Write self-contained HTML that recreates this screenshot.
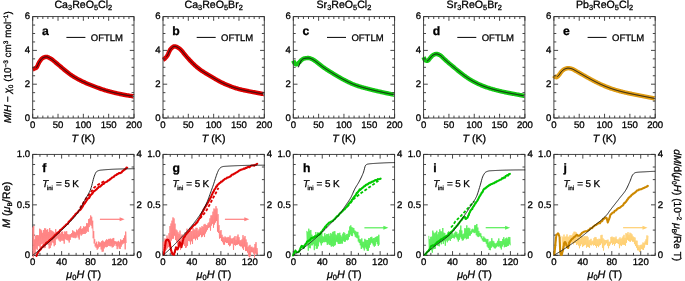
<!DOCTYPE html>
<html><head><meta charset="utf-8"><style>
html,body{margin:0;padding:0;background:#fff;width:685px;height:281px;overflow:hidden}
svg{display:block;will-change:transform}
text{font-family:"Liberation Sans", sans-serif;fill:#000;stroke:#000;stroke-width:0.3px;text-rendering:geometricPrecision}
</style></head><body>
<svg width="685" height="281" viewBox="0 0 685 281">
<text x="83.35" y="7.80" font-size="10.6" text-anchor="middle" >Ca<tspan font-size="7.4" dy="2">3</tspan><tspan dy="-2">ReO</tspan><tspan font-size="7.4" dy="2">5</tspan><tspan dy="-2">Cl</tspan><tspan font-size="7.4" dy="2">2</tspan></text>
<path d="M32.70 69.33 L33.34 69.10 L33.97 68.84 L34.61 68.58 L35.25 68.29 L35.89 67.93 L36.52 67.42 L37.16 66.45 L37.80 65.15 L38.43 63.73 L39.07 62.42 L39.71 61.40 L40.35 60.49 L40.98 59.63 L41.62 58.87 L42.26 58.28 L42.89 57.90 L43.53 57.59 L44.17 57.31 L44.81 57.09 L45.44 56.92 L46.08 56.83 L46.72 56.84 L47.35 56.98 L47.99 57.21 L48.63 57.51 L49.26 57.85 L49.90 58.20 L50.54 58.54 L51.18 58.92 L51.81 59.36 L52.45 59.83 L53.09 60.33 L53.72 60.85 L54.36 61.38 L55.00 61.91 L55.64 62.44 L56.27 62.96 L56.91 63.50 L57.55 64.03 L58.18 64.57 L58.82 65.10 L59.46 65.65 L60.10 66.19 L60.73 66.73 L61.37 67.28 L62.01 67.83 L62.64 68.37 L63.28 68.91 L63.92 69.45 L64.56 69.98 L65.19 70.51 L65.83 71.04 L66.47 71.55 L67.10 72.06 L67.74 72.56 L68.38 73.05 L69.02 73.53 L69.65 74.00 L70.29 74.45 L70.93 74.90 L71.56 75.33 L72.20 75.75 L72.84 76.16 L73.47 76.56 L74.11 76.96 L74.75 77.34 L75.39 77.72 L76.02 78.09 L76.66 78.45 L77.30 78.81 L77.93 79.15 L78.57 79.50 L79.21 79.83 L79.85 80.17 L80.48 80.49 L81.12 80.81 L81.76 81.13 L82.39 81.44 L83.03 81.74 L83.67 82.04 L84.31 82.33 L84.94 82.62 L85.58 82.90 L86.22 83.18 L86.85 83.45 L87.49 83.72 L88.13 83.98 L88.77 84.24 L89.40 84.50 L90.04 84.75 L90.68 85.00 L91.31 85.25 L91.95 85.50 L92.59 85.75 L93.23 86.00 L93.86 86.24 L94.50 86.49 L95.14 86.73 L95.77 86.97 L96.41 87.21 L97.05 87.45 L97.68 87.69 L98.32 87.92 L98.96 88.15 L99.60 88.38 L100.23 88.61 L100.87 88.83 L101.51 89.05 L102.14 89.27 L102.78 89.49 L103.42 89.70 L104.06 89.90 L104.69 90.10 L105.33 90.30 L105.97 90.50 L106.60 90.69 L107.24 90.87 L107.88 91.05 L108.52 91.23 L109.15 91.41 L109.79 91.58 L110.43 91.74 L111.06 91.91 L111.70 92.07 L112.34 92.23 L112.98 92.39 L113.61 92.54 L114.25 92.70 L114.89 92.85 L115.52 93.00 L116.16 93.15 L116.80 93.29 L117.44 93.44 L118.07 93.58 L118.71 93.72 L119.35 93.86 L119.98 93.99 L120.62 94.13 L121.26 94.26 L121.89 94.39 L122.53 94.51 L123.17 94.64 L123.81 94.76 L124.44 94.88 L125.08 95.00 L125.72 95.11 L126.35 95.22 L126.99 95.33 L127.63 95.44 L128.27 95.54 L128.90 95.64 L129.54 95.74 L130.18 95.83 L130.81 95.93 L131.45 96.02 L132.09 96.11 L132.73 96.20 L133.36 96.29 L134.00 96.37" stroke="#dc0000" stroke-width="4.4" fill="none" stroke-linecap="butt" stroke-linejoin="round"/>
<circle cx="134.00" cy="96.37" r="1.3" fill="#fff"/>
<path d="M36.25 67.68 L36.86 66.96 L37.48 65.84 L38.09 64.50 L38.70 63.14 L39.32 61.98 L39.93 61.08 L40.55 60.21 L41.16 59.40 L41.78 58.70 L42.39 58.18 L43.01 57.84 L43.62 57.55 L44.24 57.29 L44.85 57.07 L45.47 56.92 L46.08 56.83 L46.70 56.84 L47.31 56.97 L47.93 57.18 L48.54 57.47 L49.16 57.80 L49.77 58.13 L50.39 58.46 L51.00 58.81 L51.62 59.22 L52.23 59.66 L52.85 60.14 L53.46 60.63 L54.07 61.14 L54.69 61.65 L55.30 62.16 L55.92 62.67 L56.53 63.18 L57.15 63.70 L57.76 64.21 L58.38 64.73 L58.99 65.25 L59.61 65.77 L60.22 66.30 L60.84 66.82 L61.45 67.35 L62.07 67.88 L62.68 68.40 L63.30 68.92 L63.91 69.44 L64.53 69.96 L65.14 70.47 L65.76 70.98 L66.37 71.48 L66.99 71.97 L67.60 72.45 L68.22 72.93 L68.83 73.39 L69.45 73.85 L70.06 74.29 L70.67 74.72 L71.29 75.14 L71.90 75.55 L72.52 75.96 L73.13 76.35 L73.75 76.73 L74.36 77.11 L74.98 77.48 L75.59 77.84 L76.21 78.19 L76.82 78.54 L77.44 78.88 L78.05 79.22 L78.67 79.55 L79.28 79.87 L79.90 80.19 L80.51 80.51 L81.13 80.81 L81.74 81.12 L82.36 81.42 L82.97 81.71 L83.59 82.00 L84.20 82.28 L84.82 82.56 L85.43 82.83 L86.04 83.10 L86.66 83.37 L87.27 83.63 L87.89 83.88 L88.50 84.13 L89.12 84.38 L89.73 84.63 L90.35 84.87 L90.96 85.12 L91.58 85.36 L92.19 85.60 L92.81 85.84 L93.42 86.07 L94.04 86.31 L94.65 86.54 L95.27 86.78 L95.88 87.01 L96.50 87.24 L97.11 87.47 L97.73 87.70 L98.34 87.93 L98.96 88.15 L99.57 88.37 L100.19 88.59 L100.80 88.81 L101.42 89.02 L102.03 89.23 L102.64 89.44 L103.26 89.64 L103.87 89.84 L104.49 90.04 L105.10 90.23 L105.72 90.42 L106.33 90.61 L106.95 90.79 L107.56 90.96 L108.18 91.14 L108.79 91.31 L109.41 91.47 L110.02 91.64 L110.64 91.80 L111.25 91.96 L111.87 92.11 L112.48 92.27 L113.10 92.42 L113.71 92.57 L114.33 92.72 L114.94 92.86 L115.56 93.01 L116.17 93.15 L116.79 93.29 L117.40 93.43 L118.01 93.57 L118.63 93.70 L119.24 93.83 L119.86 93.97 L120.47 94.10 L121.09 94.22 L121.70 94.35 L122.32 94.47 L122.93 94.59 L123.55 94.71 L124.16 94.83 L124.78 94.94 L125.39 95.05 L126.01 95.16 L126.62 95.27 L127.24 95.37 L127.85 95.47 L128.47 95.57 L129.08 95.67 L129.70 95.76 L130.31 95.85 L130.93 95.94 L131.54 96.03 L132.16 96.12 L132.77 96.20 L133.39 96.29 L134.00 96.37" stroke="#111" stroke-width="1.0" fill="none"/>
<rect x="32.70" y="16.60" width="101.30" height="101.40" fill="none" stroke="#333" stroke-width="0.9"/>
<path d="M32.70 118.00v-4.2M32.70 16.60v4.2M37.77 118.00v-2.4M37.77 16.60v2.4M42.83 118.00v-2.4M42.83 16.60v2.4M47.90 118.00v-2.4M47.90 16.60v2.4M52.96 118.00v-2.4M52.96 16.60v2.4M58.03 118.00v-4.2M58.03 16.60v4.2M63.09 118.00v-2.4M63.09 16.60v2.4M68.16 118.00v-2.4M68.16 16.60v2.4M73.22 118.00v-2.4M73.22 16.60v2.4M78.28 118.00v-2.4M78.28 16.60v2.4M83.35 118.00v-4.2M83.35 16.60v4.2M88.42 118.00v-2.4M88.42 16.60v2.4M93.48 118.00v-2.4M93.48 16.60v2.4M98.55 118.00v-2.4M98.55 16.60v2.4M103.61 118.00v-2.4M103.61 16.60v2.4M108.67 118.00v-4.2M108.67 16.60v4.2M113.74 118.00v-2.4M113.74 16.60v2.4M118.80 118.00v-2.4M118.80 16.60v2.4M123.87 118.00v-2.4M123.87 16.60v2.4M128.94 118.00v-2.4M128.94 16.60v2.4M134.00 118.00v-4.2M134.00 16.60v4.2M32.70 118.00h4.2M134.00 118.00h-4.2M32.70 109.55h2.4M134.00 109.55h-2.4M32.70 101.10h2.4M134.00 101.10h-2.4M32.70 92.65h2.4M134.00 92.65h-2.4M32.70 84.20h4.2M134.00 84.20h-4.2M32.70 75.75h2.4M134.00 75.75h-2.4M32.70 67.30h2.4M134.00 67.30h-2.4M32.70 58.85h2.4M134.00 58.85h-2.4M32.70 50.40h4.2M134.00 50.40h-4.2M32.70 41.95h2.4M134.00 41.95h-2.4M32.70 33.50h2.4M134.00 33.50h-2.4M32.70 25.05h2.4M134.00 25.05h-2.4M32.70 16.60h4.2M134.00 16.60h-4.2" stroke="#333" stroke-width="0.9" fill="none"/>
<path d="M66.40 37.4h19" stroke="#000" stroke-width="1"/>
<text x="90.80" y="40.60" font-size="9.5" text-anchor="start" >OFTLM</text>
<text x="41.90" y="34.60" font-size="12.2" text-anchor="start" font-weight="bold">a</text>
<text x="30.20" y="120.80" font-size="9.6" text-anchor="end" >0</text>
<text x="30.20" y="87.00" font-size="9.6" text-anchor="end" >2</text>
<text x="30.20" y="53.20" font-size="9.6" text-anchor="end" >4</text>
<text x="30.20" y="19.40" font-size="9.6" text-anchor="end" >6</text>
<text x="32.70" y="128.00" font-size="9.6" text-anchor="middle" >0</text>
<text x="58.03" y="128.00" font-size="9.6" text-anchor="middle" >50</text>
<text x="83.35" y="128.00" font-size="9.6" text-anchor="middle" >100</text>
<text x="108.67" y="128.00" font-size="9.6" text-anchor="middle" >150</text>
<text x="134.00" y="128.00" font-size="9.6" text-anchor="middle" >200</text>
<text x="83.35" y="142.20" font-size="10.6" text-anchor="middle" ><tspan font-style="italic">T</tspan> (K)</text>
<rect x="32.70" y="154.40" width="101.30" height="100.90" fill="none" stroke="#333" stroke-width="0.9"/>
<path d="M32.70 255.30v-4.2M32.70 154.40v4.2M39.94 255.30v-2.4M39.94 154.40v2.4M47.17 255.30v-2.4M47.17 154.40v2.4M54.41 255.30v-2.4M54.41 154.40v2.4M61.64 255.30v-4.2M61.64 154.40v4.2M68.88 255.30v-2.4M68.88 154.40v2.4M76.11 255.30v-2.4M76.11 154.40v2.4M83.35 255.30v-2.4M83.35 154.40v2.4M90.59 255.30v-4.2M90.59 154.40v4.2M97.82 255.30v-2.4M97.82 154.40v2.4M105.06 255.30v-2.4M105.06 154.40v2.4M112.29 255.30v-2.4M112.29 154.40v2.4M119.53 255.30v-4.2M119.53 154.40v4.2M126.76 255.30v-2.4M126.76 154.40v2.4M134.00 255.30v-2.4M134.00 154.40v2.4M32.70 255.30h4.2M32.70 245.21h2.4M32.70 235.12h2.4M32.70 225.03h2.4M32.70 214.94h2.4M32.70 204.85h4.2M32.70 194.76h2.4M32.70 184.67h2.4M32.70 174.58h2.4M32.70 164.49h2.4M32.70 154.40h4.2M134.00 255.30h-4.2M134.00 242.69h-2.4M134.00 230.08h-2.4M134.00 217.46h-2.4M134.00 204.85h-4.2M134.00 192.24h-2.4M134.00 179.62h-2.4M134.00 167.01h-2.4M134.00 154.40h-4.2" stroke="#333" stroke-width="0.9" fill="none"/>
<text x="42.30" y="172.00" font-size="12.2" text-anchor="start" font-weight="bold">f</text>
<text y="187.4" font-size="9.9"><tspan x="42.30" font-style="italic">T</tspan><tspan x="47.00" y="189.8" font-size="5.9">ini</tspan><tspan x="56.00" y="187.4">=</tspan><tspan x="64.40">5</tspan><tspan x="72.30">K</tspan></text>
<text x="30.20" y="258.10" font-size="9.6" text-anchor="end" >0</text>
<text x="30.20" y="207.65" font-size="9.6" text-anchor="end" >0.5</text>
<text x="30.20" y="157.20" font-size="9.6" text-anchor="end" >1.0</text>
<text x="136.50" y="258.10" font-size="9.6" text-anchor="start" >0</text>
<text x="136.50" y="207.65" font-size="9.6" text-anchor="start" >2</text>
<text x="136.50" y="157.20" font-size="9.6" text-anchor="start" >4</text>
<text x="32.70" y="265.30" font-size="9.6" text-anchor="middle" >0</text>
<text x="61.64" y="265.30" font-size="9.6" text-anchor="middle" >40</text>
<text x="90.59" y="265.30" font-size="9.6" text-anchor="middle" >80</text>
<text x="119.53" y="265.30" font-size="9.6" text-anchor="middle" >120</text>
<text x="83.65" y="278.30" font-size="10.8" text-anchor="middle" ><tspan font-style="italic">μ</tspan><tspan font-size="7.5" dy="2">0</tspan><tspan dy="-2" font-style="italic">H</tspan> (T)</text>
<text x="213.65" y="7.80" font-size="10.6" text-anchor="middle" >Ca<tspan font-size="7.4" dy="2">3</tspan><tspan dy="-2">ReO</tspan><tspan font-size="7.4" dy="2">5</tspan><tspan dy="-2">Br</tspan><tspan font-size="7.4" dy="2">2</tspan></text>
<path d="M163.00 59.86 L163.64 59.54 L164.27 59.08 L164.91 58.51 L165.55 57.84 L166.19 57.09 L166.82 56.28 L167.46 55.40 L168.10 54.20 L168.73 52.72 L169.37 51.20 L170.01 49.91 L170.65 49.06 L171.28 48.40 L171.92 47.79 L172.56 47.25 L173.19 46.81 L173.83 46.50 L174.47 46.36 L175.11 46.38 L175.74 46.53 L176.38 46.77 L177.02 47.08 L177.65 47.44 L178.29 47.83 L178.93 48.22 L179.56 48.65 L180.20 49.18 L180.84 49.79 L181.48 50.46 L182.11 51.19 L182.75 51.97 L183.39 52.77 L184.02 53.58 L184.66 54.39 L185.30 55.18 L185.94 55.94 L186.57 56.69 L187.21 57.41 L187.85 58.12 L188.48 58.82 L189.12 59.52 L189.76 60.20 L190.40 60.88 L191.03 61.54 L191.67 62.20 L192.31 62.84 L192.94 63.46 L193.58 64.08 L194.22 64.69 L194.86 65.29 L195.49 65.88 L196.13 66.45 L196.77 67.00 L197.40 67.54 L198.04 68.06 L198.68 68.56 L199.32 69.05 L199.95 69.52 L200.59 69.98 L201.23 70.43 L201.86 70.86 L202.50 71.28 L203.14 71.70 L203.77 72.10 L204.41 72.50 L205.05 72.89 L205.69 73.28 L206.32 73.66 L206.96 74.04 L207.60 74.42 L208.23 74.80 L208.87 75.18 L209.51 75.56 L210.15 75.94 L210.78 76.32 L211.42 76.69 L212.06 77.07 L212.69 77.45 L213.33 77.83 L213.97 78.21 L214.61 78.58 L215.24 78.96 L215.88 79.32 L216.52 79.69 L217.15 80.05 L217.79 80.41 L218.43 80.76 L219.07 81.11 L219.70 81.44 L220.34 81.78 L220.98 82.10 L221.61 82.42 L222.25 82.74 L222.89 83.05 L223.53 83.35 L224.16 83.64 L224.80 83.93 L225.44 84.22 L226.07 84.50 L226.71 84.77 L227.35 85.04 L227.98 85.31 L228.62 85.57 L229.26 85.82 L229.90 86.08 L230.53 86.32 L231.17 86.56 L231.81 86.80 L232.44 87.02 L233.08 87.25 L233.72 87.47 L234.36 87.68 L234.99 87.89 L235.63 88.09 L236.27 88.28 L236.90 88.47 L237.54 88.65 L238.18 88.83 L238.82 89.01 L239.45 89.17 L240.09 89.34 L240.73 89.50 L241.36 89.65 L242.00 89.80 L242.64 89.95 L243.28 90.09 L243.91 90.23 L244.55 90.37 L245.19 90.51 L245.82 90.64 L246.46 90.77 L247.10 90.90 L247.74 91.03 L248.37 91.16 L249.01 91.29 L249.65 91.41 L250.28 91.54 L250.92 91.66 L251.56 91.79 L252.19 91.91 L252.83 92.04 L253.47 92.16 L254.11 92.28 L254.74 92.41 L255.38 92.53 L256.02 92.65 L256.65 92.77 L257.29 92.89 L257.93 93.01 L258.57 93.13 L259.20 93.25 L259.84 93.36 L260.48 93.48 L261.11 93.60 L261.75 93.71 L262.39 93.83 L263.03 93.94 L263.66 94.06 L264.30 94.17" stroke="#dc0000" stroke-width="4.4" fill="none" stroke-linecap="butt" stroke-linejoin="round"/>
<circle cx="264.30" cy="94.17" r="1.3" fill="#fff"/>
<path d="M166.55 56.64 L167.16 55.83 L167.78 54.86 L168.39 53.54 L169.00 52.06 L169.62 50.66 L170.23 49.56 L170.85 48.85 L171.46 48.22 L172.08 47.65 L172.69 47.14 L173.31 46.74 L173.92 46.47 L174.54 46.35 L175.15 46.38 L175.77 46.53 L176.38 46.77 L177.00 47.07 L177.61 47.42 L178.23 47.79 L178.84 48.17 L179.46 48.57 L180.07 49.07 L180.69 49.63 L181.30 50.27 L181.92 50.96 L182.53 51.69 L183.15 52.46 L183.76 53.24 L184.37 54.02 L184.99 54.80 L185.60 55.55 L186.22 56.28 L186.83 56.99 L187.45 57.68 L188.06 58.36 L188.68 59.04 L189.29 59.70 L189.91 60.36 L190.52 61.01 L191.14 61.65 L191.75 62.28 L192.37 62.90 L192.98 63.50 L193.60 64.09 L194.21 64.69 L194.83 65.27 L195.44 65.83 L196.06 66.38 L196.67 66.92 L197.29 67.44 L197.90 67.95 L198.52 68.44 L199.13 68.91 L199.75 69.37 L200.36 69.82 L200.97 70.25 L201.59 70.68 L202.20 71.09 L202.82 71.49 L203.43 71.89 L204.05 72.27 L204.66 72.65 L205.28 73.03 L205.89 73.40 L206.51 73.77 L207.12 74.14 L207.74 74.51 L208.35 74.87 L208.97 75.24 L209.58 75.60 L210.20 75.97 L210.81 76.33 L211.43 76.70 L212.04 77.06 L212.66 77.43 L213.27 77.80 L213.89 78.16 L214.50 78.52 L215.12 78.88 L215.73 79.24 L216.34 79.59 L216.96 79.94 L217.57 80.29 L218.19 80.63 L218.80 80.96 L219.42 81.29 L220.03 81.62 L220.65 81.94 L221.26 82.25 L221.88 82.56 L222.49 82.86 L223.11 83.15 L223.72 83.44 L224.34 83.72 L224.95 84.00 L225.57 84.28 L226.18 84.55 L226.80 84.81 L227.41 85.07 L228.03 85.33 L228.64 85.58 L229.26 85.82 L229.87 86.07 L230.49 86.30 L231.10 86.53 L231.72 86.76 L232.33 86.98 L232.94 87.20 L233.56 87.41 L234.17 87.62 L234.79 87.82 L235.40 88.02 L236.02 88.21 L236.63 88.39 L237.25 88.57 L237.86 88.75 L238.48 88.91 L239.09 89.08 L239.71 89.24 L240.32 89.40 L240.94 89.55 L241.55 89.70 L242.17 89.84 L242.78 89.98 L243.40 90.12 L244.01 90.25 L244.63 90.39 L245.24 90.52 L245.86 90.65 L246.47 90.77 L247.09 90.90 L247.70 91.02 L248.31 91.15 L248.93 91.27 L249.54 91.39 L250.16 91.51 L250.77 91.63 L251.39 91.76 L252.00 91.88 L252.62 91.99 L253.23 92.11 L253.85 92.23 L254.46 92.35 L255.08 92.47 L255.69 92.59 L256.31 92.70 L256.92 92.82 L257.54 92.94 L258.15 93.05 L258.77 93.17 L259.38 93.28 L260.00 93.39 L260.61 93.51 L261.23 93.62 L261.84 93.73 L262.46 93.84 L263.07 93.95 L263.69 94.06 L264.30 94.17" stroke="#111" stroke-width="1.0" fill="none"/>
<rect x="163.00" y="16.60" width="101.30" height="101.40" fill="none" stroke="#333" stroke-width="0.9"/>
<path d="M163.00 118.00v-4.2M163.00 16.60v4.2M168.06 118.00v-2.4M168.06 16.60v2.4M173.13 118.00v-2.4M173.13 16.60v2.4M178.19 118.00v-2.4M178.19 16.60v2.4M183.26 118.00v-2.4M183.26 16.60v2.4M188.32 118.00v-4.2M188.32 16.60v4.2M193.39 118.00v-2.4M193.39 16.60v2.4M198.45 118.00v-2.4M198.45 16.60v2.4M203.52 118.00v-2.4M203.52 16.60v2.4M208.59 118.00v-2.4M208.59 16.60v2.4M213.65 118.00v-4.2M213.65 16.60v4.2M218.72 118.00v-2.4M218.72 16.60v2.4M223.78 118.00v-2.4M223.78 16.60v2.4M228.84 118.00v-2.4M228.84 16.60v2.4M233.91 118.00v-2.4M233.91 16.60v2.4M238.97 118.00v-4.2M238.97 16.60v4.2M244.04 118.00v-2.4M244.04 16.60v2.4M249.10 118.00v-2.4M249.10 16.60v2.4M254.17 118.00v-2.4M254.17 16.60v2.4M259.24 118.00v-2.4M259.24 16.60v2.4M264.30 118.00v-4.2M264.30 16.60v4.2M163.00 118.00h4.2M264.30 118.00h-4.2M163.00 109.55h2.4M264.30 109.55h-2.4M163.00 101.10h2.4M264.30 101.10h-2.4M163.00 92.65h2.4M264.30 92.65h-2.4M163.00 84.20h4.2M264.30 84.20h-4.2M163.00 75.75h2.4M264.30 75.75h-2.4M163.00 67.30h2.4M264.30 67.30h-2.4M163.00 58.85h2.4M264.30 58.85h-2.4M163.00 50.40h4.2M264.30 50.40h-4.2M163.00 41.95h2.4M264.30 41.95h-2.4M163.00 33.50h2.4M264.30 33.50h-2.4M163.00 25.05h2.4M264.30 25.05h-2.4M163.00 16.60h4.2M264.30 16.60h-4.2" stroke="#333" stroke-width="0.9" fill="none"/>
<path d="M196.70 37.4h19" stroke="#000" stroke-width="1"/>
<text x="221.10" y="40.60" font-size="9.5" text-anchor="start" >OFTLM</text>
<text x="172.20" y="34.60" font-size="12.2" text-anchor="start" font-weight="bold">b</text>
<text x="160.50" y="120.80" font-size="9.6" text-anchor="end" >0</text>
<text x="160.50" y="87.00" font-size="9.6" text-anchor="end" >2</text>
<text x="160.50" y="53.20" font-size="9.6" text-anchor="end" >4</text>
<text x="160.50" y="19.40" font-size="9.6" text-anchor="end" >6</text>
<text x="163.00" y="128.00" font-size="9.6" text-anchor="middle" >0</text>
<text x="188.32" y="128.00" font-size="9.6" text-anchor="middle" >50</text>
<text x="213.65" y="128.00" font-size="9.6" text-anchor="middle" >100</text>
<text x="238.97" y="128.00" font-size="9.6" text-anchor="middle" >150</text>
<text x="264.30" y="128.00" font-size="9.6" text-anchor="middle" >200</text>
<text x="213.65" y="142.20" font-size="10.6" text-anchor="middle" ><tspan font-style="italic">T</tspan> (K)</text>
<rect x="163.00" y="154.40" width="101.30" height="100.90" fill="none" stroke="#333" stroke-width="0.9"/>
<path d="M163.00 255.30v-4.2M163.00 154.40v4.2M170.24 255.30v-2.4M170.24 154.40v2.4M177.47 255.30v-2.4M177.47 154.40v2.4M184.71 255.30v-2.4M184.71 154.40v2.4M191.94 255.30v-4.2M191.94 154.40v4.2M199.18 255.30v-2.4M199.18 154.40v2.4M206.41 255.30v-2.4M206.41 154.40v2.4M213.65 255.30v-2.4M213.65 154.40v2.4M220.89 255.30v-4.2M220.89 154.40v4.2M228.12 255.30v-2.4M228.12 154.40v2.4M235.36 255.30v-2.4M235.36 154.40v2.4M242.59 255.30v-2.4M242.59 154.40v2.4M249.83 255.30v-4.2M249.83 154.40v4.2M257.06 255.30v-2.4M257.06 154.40v2.4M264.30 255.30v-2.4M264.30 154.40v2.4M163.00 255.30h4.2M163.00 245.21h2.4M163.00 235.12h2.4M163.00 225.03h2.4M163.00 214.94h2.4M163.00 204.85h4.2M163.00 194.76h2.4M163.00 184.67h2.4M163.00 174.58h2.4M163.00 164.49h2.4M163.00 154.40h4.2M264.30 255.30h-4.2M264.30 242.69h-2.4M264.30 230.08h-2.4M264.30 217.46h-2.4M264.30 204.85h-4.2M264.30 192.24h-2.4M264.30 179.62h-2.4M264.30 167.01h-2.4M264.30 154.40h-4.2" stroke="#333" stroke-width="0.9" fill="none"/>
<text x="172.60" y="172.00" font-size="12.2" text-anchor="start" font-weight="bold">g</text>
<text y="187.4" font-size="9.9"><tspan x="172.60" font-style="italic">T</tspan><tspan x="177.30" y="189.8" font-size="5.9">ini</tspan><tspan x="186.30" y="187.4">=</tspan><tspan x="194.70">5</tspan><tspan x="202.60">K</tspan></text>
<text x="160.50" y="258.10" font-size="9.6" text-anchor="end" >0</text>
<text x="160.50" y="207.65" font-size="9.6" text-anchor="end" >0.5</text>
<text x="160.50" y="157.20" font-size="9.6" text-anchor="end" >1.0</text>
<text x="266.80" y="258.10" font-size="9.6" text-anchor="start" >0</text>
<text x="266.80" y="207.65" font-size="9.6" text-anchor="start" >2</text>
<text x="266.80" y="157.20" font-size="9.6" text-anchor="start" >4</text>
<text x="163.00" y="265.30" font-size="9.6" text-anchor="middle" >0</text>
<text x="191.94" y="265.30" font-size="9.6" text-anchor="middle" >40</text>
<text x="220.89" y="265.30" font-size="9.6" text-anchor="middle" >80</text>
<text x="249.83" y="265.30" font-size="9.6" text-anchor="middle" >120</text>
<text x="213.95" y="278.30" font-size="10.8" text-anchor="middle" ><tspan font-style="italic">μ</tspan><tspan font-size="7.5" dy="2">0</tspan><tspan dy="-2" font-style="italic">H</tspan> (T)</text>
<text x="343.95" y="7.80" font-size="10.6" text-anchor="middle" >Sr<tspan font-size="7.4" dy="2">3</tspan><tspan dy="-2">ReO</tspan><tspan font-size="7.4" dy="2">5</tspan><tspan dy="-2">Cl</tspan><tspan font-size="7.4" dy="2">2</tspan></text>
<path d="M293.30 60.54 L293.94 62.09 L294.57 63.19 L295.21 63.88 L295.85 64.35 L296.49 64.38 L297.12 64.10 L297.76 63.66 L298.40 63.18 L299.03 62.61 L299.67 61.91 L300.31 61.18 L300.95 60.50 L301.58 59.98 L302.22 59.54 L302.86 59.12 L303.49 58.76 L304.13 58.49 L304.77 58.33 L305.41 58.24 L306.04 58.16 L306.68 58.09 L307.32 58.04 L307.95 58.01 L308.59 58.01 L309.23 58.08 L309.86 58.24 L310.50 58.46 L311.14 58.73 L311.78 59.01 L312.41 59.29 L313.05 59.63 L313.69 60.01 L314.32 60.42 L314.96 60.87 L315.60 61.33 L316.24 61.80 L316.87 62.29 L317.51 62.78 L318.15 63.29 L318.78 63.80 L319.42 64.31 L320.06 64.82 L320.70 65.32 L321.33 65.80 L321.97 66.28 L322.61 66.74 L323.24 67.19 L323.88 67.64 L324.52 68.08 L325.16 68.52 L325.79 68.95 L326.43 69.37 L327.07 69.79 L327.70 70.20 L328.34 70.61 L328.98 71.01 L329.62 71.41 L330.25 71.81 L330.89 72.20 L331.53 72.60 L332.16 72.99 L332.80 73.38 L333.44 73.77 L334.07 74.16 L334.71 74.54 L335.35 74.93 L335.99 75.31 L336.62 75.69 L337.26 76.07 L337.90 76.44 L338.53 76.81 L339.17 77.18 L339.81 77.54 L340.45 77.90 L341.08 78.25 L341.72 78.61 L342.36 78.95 L342.99 79.30 L343.63 79.64 L344.27 79.98 L344.91 80.31 L345.54 80.64 L346.18 80.97 L346.82 81.29 L347.45 81.61 L348.09 81.92 L348.73 82.23 L349.37 82.54 L350.00 82.83 L350.64 83.13 L351.28 83.41 L351.91 83.69 L352.55 83.97 L353.19 84.23 L353.83 84.49 L354.46 84.74 L355.10 84.98 L355.74 85.22 L356.37 85.45 L357.01 85.67 L357.65 85.89 L358.28 86.10 L358.92 86.31 L359.56 86.51 L360.20 86.71 L360.83 86.90 L361.47 87.09 L362.11 87.27 L362.74 87.45 L363.38 87.63 L364.02 87.80 L364.66 87.98 L365.29 88.15 L365.93 88.32 L366.57 88.49 L367.20 88.65 L367.84 88.82 L368.48 88.98 L369.12 89.15 L369.75 89.31 L370.39 89.47 L371.03 89.62 L371.66 89.78 L372.30 89.94 L372.94 90.09 L373.58 90.25 L374.21 90.40 L374.85 90.55 L375.49 90.70 L376.12 90.85 L376.76 91.00 L377.40 91.14 L378.04 91.29 L378.67 91.43 L379.31 91.58 L379.95 91.72 L380.58 91.87 L381.22 92.01 L381.86 92.15 L382.49 92.29 L383.13 92.43 L383.77 92.57 L384.41 92.71 L385.04 92.85 L385.68 92.99 L386.32 93.12 L386.95 93.26 L387.59 93.40 L388.23 93.53 L388.87 93.66 L389.50 93.80 L390.14 93.93 L390.78 94.06 L391.41 94.20 L392.05 94.33 L392.69 94.46 L393.33 94.59 L393.96 94.72 L394.60 94.85" stroke="#14c814" stroke-width="4.4" fill="none" stroke-linecap="butt" stroke-linejoin="round"/>
<circle cx="394.60" cy="94.85" r="1.3" fill="#fff"/>
<path d="M298.37 67.30 L298.97 65.77 L299.58 64.31 L300.18 62.85 L300.79 61.31 L301.39 60.16 L302.00 59.62 L302.60 59.18 L303.21 58.83 L303.81 58.57 L304.42 58.40 L305.02 58.29 L305.63 58.21 L306.23 58.14 L306.84 58.08 L307.44 58.04 L308.05 58.01 L308.65 58.01 L309.26 58.08 L309.86 58.24 L310.47 58.45 L311.08 58.70 L311.68 58.96 L312.29 59.23 L312.89 59.54 L313.50 59.89 L314.10 60.27 L314.71 60.69 L315.31 61.12 L315.92 61.56 L316.52 62.02 L317.13 62.48 L317.73 62.96 L318.34 63.44 L318.94 63.93 L319.55 64.42 L320.15 64.90 L320.76 65.37 L321.36 65.83 L321.97 66.28 L322.58 66.72 L323.18 67.15 L323.79 67.57 L324.39 67.99 L325.00 68.41 L325.60 68.82 L326.21 69.23 L326.81 69.62 L327.42 70.02 L328.02 70.41 L328.63 70.79 L329.23 71.17 L329.84 71.55 L330.44 71.93 L331.05 72.30 L331.65 72.67 L332.26 73.05 L332.86 73.42 L333.47 73.79 L334.07 74.16 L334.68 74.52 L335.29 74.89 L335.89 75.25 L336.50 75.61 L337.10 75.97 L337.71 76.33 L338.31 76.68 L338.92 77.03 L339.52 77.38 L340.13 77.72 L340.73 78.06 L341.34 78.39 L341.94 78.73 L342.55 79.06 L343.15 79.38 L343.76 79.71 L344.36 80.03 L344.97 80.34 L345.57 80.66 L346.18 80.97 L346.79 81.28 L347.39 81.58 L348.00 81.88 L348.60 82.17 L349.21 82.46 L349.81 82.75 L350.42 83.03 L351.02 83.30 L351.63 83.57 L352.23 83.83 L352.84 84.09 L353.44 84.33 L354.05 84.58 L354.65 84.81 L355.26 85.04 L355.86 85.27 L356.47 85.48 L357.07 85.70 L357.68 85.90 L358.28 86.10 L358.89 86.30 L359.50 86.49 L360.10 86.68 L360.71 86.86 L361.31 87.04 L361.92 87.21 L362.52 87.39 L363.13 87.56 L363.73 87.73 L364.34 87.89 L364.94 88.06 L365.55 88.22 L366.15 88.38 L366.76 88.54 L367.36 88.70 L367.97 88.85 L368.57 89.01 L369.18 89.16 L369.78 89.31 L370.39 89.47 L371.00 89.62 L371.60 89.77 L372.21 89.91 L372.81 90.06 L373.42 90.21 L374.02 90.35 L374.63 90.50 L375.23 90.64 L375.84 90.78 L376.44 90.92 L377.05 91.06 L377.65 91.20 L378.26 91.34 L378.86 91.48 L379.47 91.61 L380.07 91.75 L380.68 91.89 L381.28 92.02 L381.89 92.16 L382.49 92.29 L383.10 92.42 L383.71 92.56 L384.31 92.69 L384.92 92.82 L385.52 92.95 L386.13 93.08 L386.73 93.21 L387.34 93.34 L387.94 93.47 L388.55 93.60 L389.15 93.72 L389.76 93.85 L390.36 93.98 L390.97 94.10 L391.57 94.23 L392.18 94.35 L392.78 94.48 L393.39 94.60 L393.99 94.72 L394.60 94.85" stroke="#111" stroke-width="1.0" fill="none"/>
<rect x="293.30" y="16.60" width="101.30" height="101.40" fill="none" stroke="#333" stroke-width="0.9"/>
<path d="M293.30 118.00v-4.2M293.30 16.60v4.2M298.37 118.00v-2.4M298.37 16.60v2.4M303.43 118.00v-2.4M303.43 16.60v2.4M308.50 118.00v-2.4M308.50 16.60v2.4M313.56 118.00v-2.4M313.56 16.60v2.4M318.62 118.00v-4.2M318.62 16.60v4.2M323.69 118.00v-2.4M323.69 16.60v2.4M328.75 118.00v-2.4M328.75 16.60v2.4M333.82 118.00v-2.4M333.82 16.60v2.4M338.88 118.00v-2.4M338.88 16.60v2.4M343.95 118.00v-4.2M343.95 16.60v4.2M349.01 118.00v-2.4M349.01 16.60v2.4M354.08 118.00v-2.4M354.08 16.60v2.4M359.14 118.00v-2.4M359.14 16.60v2.4M364.21 118.00v-2.4M364.21 16.60v2.4M369.27 118.00v-4.2M369.27 16.60v4.2M374.34 118.00v-2.4M374.34 16.60v2.4M379.40 118.00v-2.4M379.40 16.60v2.4M384.47 118.00v-2.4M384.47 16.60v2.4M389.54 118.00v-2.4M389.54 16.60v2.4M394.60 118.00v-4.2M394.60 16.60v4.2M293.30 118.00h4.2M394.60 118.00h-4.2M293.30 109.55h2.4M394.60 109.55h-2.4M293.30 101.10h2.4M394.60 101.10h-2.4M293.30 92.65h2.4M394.60 92.65h-2.4M293.30 84.20h4.2M394.60 84.20h-4.2M293.30 75.75h2.4M394.60 75.75h-2.4M293.30 67.30h2.4M394.60 67.30h-2.4M293.30 58.85h2.4M394.60 58.85h-2.4M293.30 50.40h4.2M394.60 50.40h-4.2M293.30 41.95h2.4M394.60 41.95h-2.4M293.30 33.50h2.4M394.60 33.50h-2.4M293.30 25.05h2.4M394.60 25.05h-2.4M293.30 16.60h4.2M394.60 16.60h-4.2" stroke="#333" stroke-width="0.9" fill="none"/>
<path d="M327.00 37.4h19" stroke="#000" stroke-width="1"/>
<text x="351.40" y="40.60" font-size="9.5" text-anchor="start" >OFTLM</text>
<text x="302.50" y="34.60" font-size="12.2" text-anchor="start" font-weight="bold">c</text>
<text x="290.80" y="120.80" font-size="9.6" text-anchor="end" >0</text>
<text x="290.80" y="87.00" font-size="9.6" text-anchor="end" >2</text>
<text x="290.80" y="53.20" font-size="9.6" text-anchor="end" >4</text>
<text x="290.80" y="19.40" font-size="9.6" text-anchor="end" >6</text>
<text x="293.30" y="128.00" font-size="9.6" text-anchor="middle" >0</text>
<text x="318.62" y="128.00" font-size="9.6" text-anchor="middle" >50</text>
<text x="343.95" y="128.00" font-size="9.6" text-anchor="middle" >100</text>
<text x="369.27" y="128.00" font-size="9.6" text-anchor="middle" >150</text>
<text x="394.60" y="128.00" font-size="9.6" text-anchor="middle" >200</text>
<text x="343.95" y="142.20" font-size="10.6" text-anchor="middle" ><tspan font-style="italic">T</tspan> (K)</text>
<rect x="293.30" y="154.40" width="101.30" height="100.90" fill="none" stroke="#333" stroke-width="0.9"/>
<path d="M293.30 255.30v-4.2M293.30 154.40v4.2M300.54 255.30v-2.4M300.54 154.40v2.4M307.77 255.30v-2.4M307.77 154.40v2.4M315.01 255.30v-2.4M315.01 154.40v2.4M322.24 255.30v-4.2M322.24 154.40v4.2M329.48 255.30v-2.4M329.48 154.40v2.4M336.71 255.30v-2.4M336.71 154.40v2.4M343.95 255.30v-2.4M343.95 154.40v2.4M351.19 255.30v-4.2M351.19 154.40v4.2M358.42 255.30v-2.4M358.42 154.40v2.4M365.66 255.30v-2.4M365.66 154.40v2.4M372.89 255.30v-2.4M372.89 154.40v2.4M380.13 255.30v-4.2M380.13 154.40v4.2M387.36 255.30v-2.4M387.36 154.40v2.4M394.60 255.30v-2.4M394.60 154.40v2.4M293.30 255.30h4.2M293.30 245.21h2.4M293.30 235.12h2.4M293.30 225.03h2.4M293.30 214.94h2.4M293.30 204.85h4.2M293.30 194.76h2.4M293.30 184.67h2.4M293.30 174.58h2.4M293.30 164.49h2.4M293.30 154.40h4.2M394.60 255.30h-4.2M394.60 242.69h-2.4M394.60 230.08h-2.4M394.60 217.46h-2.4M394.60 204.85h-4.2M394.60 192.24h-2.4M394.60 179.62h-2.4M394.60 167.01h-2.4M394.60 154.40h-4.2" stroke="#333" stroke-width="0.9" fill="none"/>
<text x="302.90" y="172.00" font-size="12.2" text-anchor="start" font-weight="bold">h</text>
<text y="187.4" font-size="9.9"><tspan x="302.90" font-style="italic">T</tspan><tspan x="307.60" y="189.8" font-size="5.9">ini</tspan><tspan x="316.60" y="187.4">=</tspan><tspan x="325.00">5</tspan><tspan x="332.90">K</tspan></text>
<text x="290.80" y="258.10" font-size="9.6" text-anchor="end" >0</text>
<text x="290.80" y="207.65" font-size="9.6" text-anchor="end" >0.5</text>
<text x="290.80" y="157.20" font-size="9.6" text-anchor="end" >1.0</text>
<text x="397.10" y="258.10" font-size="9.6" text-anchor="start" >0</text>
<text x="397.10" y="207.65" font-size="9.6" text-anchor="start" >2</text>
<text x="397.10" y="157.20" font-size="9.6" text-anchor="start" >4</text>
<text x="293.30" y="265.30" font-size="9.6" text-anchor="middle" >0</text>
<text x="322.24" y="265.30" font-size="9.6" text-anchor="middle" >40</text>
<text x="351.19" y="265.30" font-size="9.6" text-anchor="middle" >80</text>
<text x="380.13" y="265.30" font-size="9.6" text-anchor="middle" >120</text>
<text x="344.25" y="278.30" font-size="10.8" text-anchor="middle" ><tspan font-style="italic">μ</tspan><tspan font-size="7.5" dy="2">0</tspan><tspan dy="-2" font-style="italic">H</tspan> (T)</text>
<text x="474.25" y="7.80" font-size="10.6" text-anchor="middle" >Sr<tspan font-size="7.4" dy="2">3</tspan><tspan dy="-2">ReO</tspan><tspan font-size="7.4" dy="2">5</tspan><tspan dy="-2">Br</tspan><tspan font-size="7.4" dy="2">2</tspan></text>
<path d="M423.60 57.16 L424.24 58.82 L424.87 60.06 L425.51 60.49 L426.15 60.70 L426.79 60.83 L427.42 60.87 L428.06 60.57 L428.70 59.88 L429.33 59.03 L429.97 58.24 L430.61 57.55 L431.25 56.80 L431.88 56.07 L432.52 55.45 L433.16 55.00 L433.79 54.69 L434.43 54.41 L435.07 54.18 L435.71 54.02 L436.34 53.95 L436.98 54.00 L437.62 54.15 L438.25 54.37 L438.89 54.64 L439.53 54.93 L440.16 55.27 L440.80 55.73 L441.44 56.27 L442.08 56.88 L442.71 57.53 L443.35 58.16 L443.99 58.77 L444.62 59.35 L445.26 59.93 L445.90 60.50 L446.54 61.06 L447.17 61.63 L447.81 62.18 L448.45 62.74 L449.08 63.29 L449.72 63.83 L450.36 64.37 L451.00 64.91 L451.63 65.44 L452.27 65.97 L452.91 66.50 L453.54 67.02 L454.18 67.55 L454.82 68.08 L455.46 68.60 L456.09 69.12 L456.73 69.65 L457.37 70.17 L458.00 70.68 L458.64 71.20 L459.28 71.72 L459.92 72.23 L460.55 72.73 L461.19 73.24 L461.83 73.74 L462.46 74.23 L463.10 74.72 L463.74 75.20 L464.37 75.67 L465.01 76.13 L465.65 76.59 L466.29 77.03 L466.92 77.47 L467.56 77.90 L468.20 78.32 L468.83 78.73 L469.47 79.14 L470.11 79.53 L470.75 79.92 L471.38 80.30 L472.02 80.67 L472.66 81.04 L473.29 81.40 L473.93 81.75 L474.57 82.09 L475.21 82.43 L475.84 82.76 L476.48 83.08 L477.12 83.39 L477.75 83.70 L478.39 84.00 L479.03 84.30 L479.67 84.58 L480.30 84.86 L480.94 85.13 L481.58 85.40 L482.21 85.66 L482.85 85.91 L483.49 86.16 L484.13 86.40 L484.76 86.64 L485.40 86.87 L486.04 87.09 L486.67 87.31 L487.31 87.53 L487.95 87.74 L488.58 87.95 L489.22 88.16 L489.86 88.36 L490.50 88.55 L491.13 88.75 L491.77 88.94 L492.41 89.12 L493.04 89.30 L493.68 89.48 L494.32 89.66 L494.96 89.83 L495.59 90.00 L496.23 90.17 L496.87 90.33 L497.50 90.49 L498.14 90.65 L498.78 90.81 L499.42 90.96 L500.05 91.11 L500.69 91.26 L501.33 91.41 L501.96 91.55 L502.60 91.69 L503.24 91.83 L503.88 91.97 L504.51 92.11 L505.15 92.24 L505.79 92.37 L506.42 92.50 L507.06 92.63 L507.70 92.76 L508.34 92.88 L508.97 93.01 L509.61 93.13 L510.25 93.25 L510.88 93.37 L511.52 93.49 L512.16 93.61 L512.79 93.72 L513.43 93.84 L514.07 93.96 L514.71 94.07 L515.34 94.19 L515.98 94.31 L516.62 94.42 L517.25 94.54 L517.89 94.66 L518.53 94.78 L519.17 94.90 L519.80 95.03 L520.44 95.15 L521.08 95.27 L521.71 95.40 L522.35 95.52 L522.99 95.65 L523.63 95.78 L524.26 95.90 L524.90 96.03" stroke="#14c814" stroke-width="4.4" fill="none" stroke-linecap="butt" stroke-linejoin="round"/>
<circle cx="524.90" cy="96.03" r="1.3" fill="#fff"/>
<path d="M427.15 60.87 L427.76 60.77 L428.38 60.27 L428.99 59.50 L429.60 58.67 L430.22 57.98 L430.83 57.28 L431.45 56.56 L432.06 55.88 L432.68 55.32 L433.29 54.93 L433.91 54.64 L434.52 54.38 L435.14 54.16 L435.75 54.01 L436.37 53.95 L436.98 54.00 L437.60 54.14 L438.21 54.35 L438.83 54.61 L439.44 54.89 L440.06 55.20 L440.67 55.63 L441.29 56.14 L441.90 56.71 L442.52 57.33 L443.13 57.95 L443.75 58.54 L444.36 59.11 L444.97 59.67 L445.59 60.22 L446.20 60.77 L446.82 61.31 L447.43 61.86 L448.05 62.39 L448.66 62.93 L449.28 63.45 L449.89 63.98 L450.51 64.50 L451.12 65.01 L451.74 65.53 L452.35 66.04 L452.97 66.55 L453.58 67.06 L454.20 67.56 L454.81 68.07 L455.43 68.58 L456.04 69.08 L456.66 69.59 L457.27 70.09 L457.89 70.59 L458.50 71.09 L459.12 71.58 L459.73 72.08 L460.35 72.57 L460.96 73.06 L461.57 73.54 L462.19 74.02 L462.80 74.49 L463.42 74.96 L464.03 75.42 L464.65 75.87 L465.26 76.31 L465.88 76.75 L466.49 77.18 L467.11 77.60 L467.72 78.01 L468.34 78.41 L468.95 78.81 L469.57 79.20 L470.18 79.58 L470.80 79.95 L471.41 80.32 L472.03 80.68 L472.64 81.03 L473.26 81.38 L473.87 81.71 L474.49 82.05 L475.10 82.37 L475.72 82.69 L476.33 83.00 L476.94 83.31 L477.56 83.61 L478.17 83.90 L478.79 84.19 L479.40 84.46 L480.02 84.74 L480.63 85.00 L481.25 85.26 L481.86 85.52 L482.48 85.76 L483.09 86.01 L483.71 86.24 L484.32 86.47 L484.94 86.70 L485.55 86.92 L486.17 87.14 L486.78 87.35 L487.40 87.56 L488.01 87.77 L488.63 87.97 L489.24 88.16 L489.86 88.36 L490.47 88.55 L491.09 88.73 L491.70 88.92 L492.32 89.09 L492.93 89.27 L493.54 89.44 L494.16 89.62 L494.77 89.78 L495.39 89.95 L496.00 90.11 L496.62 90.27 L497.23 90.42 L497.85 90.58 L498.46 90.73 L499.08 90.88 L499.69 91.03 L500.31 91.17 L500.92 91.31 L501.54 91.45 L502.15 91.59 L502.77 91.73 L503.38 91.86 L504.00 92.00 L504.61 92.13 L505.23 92.26 L505.84 92.38 L506.46 92.51 L507.07 92.63 L507.69 92.76 L508.30 92.88 L508.91 93.00 L509.53 93.11 L510.14 93.23 L510.76 93.35 L511.37 93.46 L511.99 93.57 L512.60 93.69 L513.22 93.80 L513.83 93.91 L514.45 94.02 L515.06 94.14 L515.68 94.25 L516.29 94.36 L516.91 94.48 L517.52 94.59 L518.14 94.71 L518.75 94.82 L519.37 94.94 L519.98 95.06 L520.60 95.18 L521.21 95.30 L521.83 95.42 L522.44 95.54 L523.06 95.66 L523.67 95.78 L524.29 95.91 L524.90 96.03" stroke="#111" stroke-width="1.0" fill="none"/>
<rect x="423.60" y="16.60" width="101.30" height="101.40" fill="none" stroke="#333" stroke-width="0.9"/>
<path d="M423.60 118.00v-4.2M423.60 16.60v4.2M428.67 118.00v-2.4M428.67 16.60v2.4M433.73 118.00v-2.4M433.73 16.60v2.4M438.80 118.00v-2.4M438.80 16.60v2.4M443.86 118.00v-2.4M443.86 16.60v2.4M448.93 118.00v-4.2M448.93 16.60v4.2M453.99 118.00v-2.4M453.99 16.60v2.4M459.06 118.00v-2.4M459.06 16.60v2.4M464.12 118.00v-2.4M464.12 16.60v2.4M469.19 118.00v-2.4M469.19 16.60v2.4M474.25 118.00v-4.2M474.25 16.60v4.2M479.32 118.00v-2.4M479.32 16.60v2.4M484.38 118.00v-2.4M484.38 16.60v2.4M489.45 118.00v-2.4M489.45 16.60v2.4M494.51 118.00v-2.4M494.51 16.60v2.4M499.58 118.00v-4.2M499.58 16.60v4.2M504.64 118.00v-2.4M504.64 16.60v2.4M509.71 118.00v-2.4M509.71 16.60v2.4M514.77 118.00v-2.4M514.77 16.60v2.4M519.84 118.00v-2.4M519.84 16.60v2.4M524.90 118.00v-4.2M524.90 16.60v4.2M423.60 118.00h4.2M524.90 118.00h-4.2M423.60 109.55h2.4M524.90 109.55h-2.4M423.60 101.10h2.4M524.90 101.10h-2.4M423.60 92.65h2.4M524.90 92.65h-2.4M423.60 84.20h4.2M524.90 84.20h-4.2M423.60 75.75h2.4M524.90 75.75h-2.4M423.60 67.30h2.4M524.90 67.30h-2.4M423.60 58.85h2.4M524.90 58.85h-2.4M423.60 50.40h4.2M524.90 50.40h-4.2M423.60 41.95h2.4M524.90 41.95h-2.4M423.60 33.50h2.4M524.90 33.50h-2.4M423.60 25.05h2.4M524.90 25.05h-2.4M423.60 16.60h4.2M524.90 16.60h-4.2" stroke="#333" stroke-width="0.9" fill="none"/>
<path d="M457.30 37.4h19" stroke="#000" stroke-width="1"/>
<text x="481.70" y="40.60" font-size="9.5" text-anchor="start" >OFTLM</text>
<text x="432.80" y="34.60" font-size="12.2" text-anchor="start" font-weight="bold">d</text>
<text x="421.10" y="120.80" font-size="9.6" text-anchor="end" >0</text>
<text x="421.10" y="87.00" font-size="9.6" text-anchor="end" >2</text>
<text x="421.10" y="53.20" font-size="9.6" text-anchor="end" >4</text>
<text x="421.10" y="19.40" font-size="9.6" text-anchor="end" >6</text>
<text x="423.60" y="128.00" font-size="9.6" text-anchor="middle" >0</text>
<text x="448.93" y="128.00" font-size="9.6" text-anchor="middle" >50</text>
<text x="474.25" y="128.00" font-size="9.6" text-anchor="middle" >100</text>
<text x="499.58" y="128.00" font-size="9.6" text-anchor="middle" >150</text>
<text x="524.90" y="128.00" font-size="9.6" text-anchor="middle" >200</text>
<text x="474.25" y="142.20" font-size="10.6" text-anchor="middle" ><tspan font-style="italic">T</tspan> (K)</text>
<rect x="423.60" y="154.40" width="101.30" height="100.90" fill="none" stroke="#333" stroke-width="0.9"/>
<path d="M423.60 255.30v-4.2M423.60 154.40v4.2M430.84 255.30v-2.4M430.84 154.40v2.4M438.07 255.30v-2.4M438.07 154.40v2.4M445.31 255.30v-2.4M445.31 154.40v2.4M452.54 255.30v-4.2M452.54 154.40v4.2M459.78 255.30v-2.4M459.78 154.40v2.4M467.01 255.30v-2.4M467.01 154.40v2.4M474.25 255.30v-2.4M474.25 154.40v2.4M481.49 255.30v-4.2M481.49 154.40v4.2M488.72 255.30v-2.4M488.72 154.40v2.4M495.96 255.30v-2.4M495.96 154.40v2.4M503.19 255.30v-2.4M503.19 154.40v2.4M510.43 255.30v-4.2M510.43 154.40v4.2M517.66 255.30v-2.4M517.66 154.40v2.4M524.90 255.30v-2.4M524.90 154.40v2.4M423.60 255.30h4.2M423.60 245.21h2.4M423.60 235.12h2.4M423.60 225.03h2.4M423.60 214.94h2.4M423.60 204.85h4.2M423.60 194.76h2.4M423.60 184.67h2.4M423.60 174.58h2.4M423.60 164.49h2.4M423.60 154.40h4.2M524.90 255.30h-4.2M524.90 242.69h-2.4M524.90 230.08h-2.4M524.90 217.46h-2.4M524.90 204.85h-4.2M524.90 192.24h-2.4M524.90 179.62h-2.4M524.90 167.01h-2.4M524.90 154.40h-4.2" stroke="#333" stroke-width="0.9" fill="none"/>
<text x="433.20" y="172.00" font-size="12.2" text-anchor="start" font-weight="bold">i</text>
<text y="187.4" font-size="9.9"><tspan x="433.20" font-style="italic">T</tspan><tspan x="437.90" y="189.8" font-size="5.9">ini</tspan><tspan x="446.90" y="187.4">=</tspan><tspan x="455.30">5</tspan><tspan x="463.20">K</tspan></text>
<text x="421.10" y="258.10" font-size="9.6" text-anchor="end" >0</text>
<text x="421.10" y="207.65" font-size="9.6" text-anchor="end" >0.5</text>
<text x="421.10" y="157.20" font-size="9.6" text-anchor="end" >1.0</text>
<text x="527.40" y="258.10" font-size="9.6" text-anchor="start" >0</text>
<text x="527.40" y="207.65" font-size="9.6" text-anchor="start" >2</text>
<text x="527.40" y="157.20" font-size="9.6" text-anchor="start" >4</text>
<text x="423.60" y="265.30" font-size="9.6" text-anchor="middle" >0</text>
<text x="452.54" y="265.30" font-size="9.6" text-anchor="middle" >40</text>
<text x="481.49" y="265.30" font-size="9.6" text-anchor="middle" >80</text>
<text x="510.43" y="265.30" font-size="9.6" text-anchor="middle" >120</text>
<text x="474.55" y="278.30" font-size="10.8" text-anchor="middle" ><tspan font-style="italic">μ</tspan><tspan font-size="7.5" dy="2">0</tspan><tspan dy="-2" font-style="italic">H</tspan> (T)</text>
<text x="604.55" y="7.80" font-size="10.6" text-anchor="middle" >Pb<tspan font-size="7.4" dy="2">3</tspan><tspan dy="-2">ReO</tspan><tspan font-size="7.4" dy="2">5</tspan><tspan dy="-2">Cl</tspan><tspan font-size="7.4" dy="2">2</tspan></text>
<path d="M553.90 75.58 L554.54 76.37 L555.17 76.90 L555.81 77.19 L556.45 77.27 L557.09 76.98 L557.72 76.41 L558.36 75.73 L559.00 75.03 L559.63 74.16 L560.27 73.21 L560.91 72.29 L561.55 71.51 L562.18 70.90 L562.82 70.34 L563.46 69.83 L564.09 69.39 L564.73 69.06 L565.37 68.80 L566.01 68.57 L566.64 68.37 L567.28 68.22 L567.92 68.15 L568.55 68.16 L569.19 68.23 L569.83 68.33 L570.46 68.47 L571.10 68.61 L571.74 68.78 L572.38 69.01 L573.01 69.30 L573.65 69.63 L574.29 69.98 L574.92 70.35 L575.56 70.71 L576.20 71.07 L576.84 71.43 L577.47 71.79 L578.11 72.15 L578.75 72.52 L579.38 72.88 L580.02 73.25 L580.66 73.61 L581.30 73.98 L581.93 74.34 L582.57 74.71 L583.21 75.07 L583.84 75.43 L584.48 75.79 L585.12 76.15 L585.76 76.51 L586.39 76.87 L587.03 77.23 L587.67 77.58 L588.30 77.94 L588.94 78.29 L589.58 78.64 L590.22 78.99 L590.85 79.34 L591.49 79.68 L592.13 80.03 L592.76 80.37 L593.40 80.71 L594.04 81.04 L594.67 81.37 L595.31 81.70 L595.95 82.02 L596.59 82.34 L597.22 82.66 L597.86 82.97 L598.50 83.28 L599.13 83.58 L599.77 83.88 L600.41 84.18 L601.05 84.47 L601.68 84.76 L602.32 85.04 L602.96 85.32 L603.59 85.60 L604.23 85.87 L604.87 86.14 L605.51 86.40 L606.14 86.66 L606.78 86.91 L607.42 87.16 L608.05 87.41 L608.69 87.65 L609.33 87.88 L609.97 88.11 L610.60 88.34 L611.24 88.56 L611.88 88.78 L612.51 88.99 L613.15 89.20 L613.79 89.40 L614.43 89.60 L615.06 89.80 L615.70 89.99 L616.34 90.18 L616.97 90.37 L617.61 90.55 L618.25 90.73 L618.88 90.91 L619.52 91.08 L620.16 91.25 L620.80 91.42 L621.43 91.59 L622.07 91.75 L622.71 91.91 L623.34 92.06 L623.98 92.22 L624.62 92.37 L625.26 92.52 L625.89 92.66 L626.53 92.81 L627.17 92.95 L627.80 93.09 L628.44 93.23 L629.08 93.37 L629.72 93.50 L630.35 93.63 L630.99 93.77 L631.63 93.90 L632.26 94.03 L632.90 94.16 L633.54 94.29 L634.18 94.42 L634.81 94.55 L635.45 94.67 L636.09 94.80 L636.72 94.93 L637.36 95.06 L638.00 95.19 L638.64 95.31 L639.27 95.44 L639.91 95.57 L640.55 95.69 L641.18 95.82 L641.82 95.95 L642.46 96.07 L643.09 96.20 L643.73 96.32 L644.37 96.45 L645.01 96.58 L645.64 96.70 L646.28 96.83 L646.92 96.95 L647.55 97.07 L648.19 97.20 L648.83 97.32 L649.47 97.45 L650.10 97.57 L650.74 97.70 L651.38 97.82 L652.01 97.95 L652.65 98.07 L653.29 98.19 L653.93 98.32 L654.56 98.44 L655.20 98.57" stroke="#df9c14" stroke-width="4.4" fill="none" stroke-linecap="butt" stroke-linejoin="round"/>
<circle cx="655.20" cy="98.57" r="1.3" fill="#fff"/>
<path d="M557.45 76.69 L558.06 76.05 L558.68 75.41 L559.29 74.65 L559.90 73.76 L560.52 72.84 L561.13 71.99 L561.75 71.31 L562.36 70.74 L562.98 70.20 L563.59 69.73 L564.21 69.33 L564.82 69.02 L565.44 68.78 L566.05 68.55 L566.67 68.36 L567.28 68.22 L567.90 68.15 L568.51 68.16 L569.13 68.22 L569.74 68.32 L570.36 68.44 L570.97 68.58 L571.59 68.73 L572.20 68.94 L572.82 69.21 L573.43 69.51 L574.05 69.85 L574.66 70.20 L575.27 70.55 L575.89 70.90 L576.50 71.24 L577.12 71.59 L577.73 71.94 L578.35 72.29 L578.96 72.64 L579.58 72.99 L580.19 73.35 L580.81 73.70 L581.42 74.05 L582.04 74.40 L582.65 74.75 L583.27 75.10 L583.88 75.45 L584.50 75.80 L585.11 76.15 L585.73 76.49 L586.34 76.84 L586.96 77.19 L587.57 77.53 L588.19 77.87 L588.80 78.21 L589.42 78.55 L590.03 78.89 L590.65 79.23 L591.26 79.56 L591.87 79.89 L592.49 80.22 L593.10 80.55 L593.72 80.87 L594.33 81.19 L594.95 81.51 L595.56 81.83 L596.18 82.14 L596.79 82.45 L597.41 82.75 L598.02 83.05 L598.64 83.35 L599.25 83.64 L599.87 83.93 L600.48 84.21 L601.10 84.49 L601.71 84.77 L602.33 85.04 L602.94 85.31 L603.56 85.58 L604.17 85.84 L604.79 86.10 L605.40 86.36 L606.02 86.61 L606.63 86.85 L607.24 87.10 L607.86 87.33 L608.47 87.57 L609.09 87.80 L609.70 88.02 L610.32 88.24 L610.93 88.46 L611.55 88.67 L612.16 88.88 L612.78 89.08 L613.39 89.28 L614.01 89.47 L614.62 89.67 L615.24 89.85 L615.85 90.04 L616.47 90.22 L617.08 90.40 L617.70 90.58 L618.31 90.75 L618.93 90.92 L619.54 91.09 L620.16 91.25 L620.77 91.41 L621.39 91.57 L622.00 91.73 L622.62 91.88 L623.23 92.04 L623.84 92.19 L624.46 92.33 L625.07 92.48 L625.69 92.62 L626.30 92.76 L626.92 92.90 L627.53 93.03 L628.15 93.17 L628.76 93.30 L629.38 93.43 L629.99 93.56 L630.61 93.69 L631.22 93.81 L631.84 93.94 L632.45 94.07 L633.07 94.19 L633.68 94.32 L634.30 94.44 L634.91 94.57 L635.53 94.69 L636.14 94.81 L636.76 94.94 L637.37 95.06 L637.99 95.18 L638.60 95.31 L639.21 95.43 L639.83 95.55 L640.44 95.67 L641.06 95.80 L641.67 95.92 L642.29 96.04 L642.90 96.16 L643.52 96.28 L644.13 96.40 L644.75 96.52 L645.36 96.65 L645.98 96.77 L646.59 96.89 L647.21 97.01 L647.82 97.13 L648.44 97.25 L649.05 97.37 L649.67 97.49 L650.28 97.61 L650.90 97.73 L651.51 97.85 L652.13 97.97 L652.74 98.09 L653.36 98.21 L653.97 98.33 L654.59 98.45 L655.20 98.57" stroke="#111" stroke-width="1.0" fill="none"/>
<rect x="553.90" y="16.60" width="101.30" height="101.40" fill="none" stroke="#333" stroke-width="0.9"/>
<path d="M553.90 118.00v-4.2M553.90 16.60v4.2M558.97 118.00v-2.4M558.97 16.60v2.4M564.03 118.00v-2.4M564.03 16.60v2.4M569.10 118.00v-2.4M569.10 16.60v2.4M574.16 118.00v-2.4M574.16 16.60v2.4M579.23 118.00v-4.2M579.23 16.60v4.2M584.29 118.00v-2.4M584.29 16.60v2.4M589.36 118.00v-2.4M589.36 16.60v2.4M594.42 118.00v-2.4M594.42 16.60v2.4M599.49 118.00v-2.4M599.49 16.60v2.4M604.55 118.00v-4.2M604.55 16.60v4.2M609.62 118.00v-2.4M609.62 16.60v2.4M614.68 118.00v-2.4M614.68 16.60v2.4M619.75 118.00v-2.4M619.75 16.60v2.4M624.81 118.00v-2.4M624.81 16.60v2.4M629.88 118.00v-4.2M629.88 16.60v4.2M634.94 118.00v-2.4M634.94 16.60v2.4M640.00 118.00v-2.4M640.00 16.60v2.4M645.07 118.00v-2.4M645.07 16.60v2.4M650.13 118.00v-2.4M650.13 16.60v2.4M655.20 118.00v-4.2M655.20 16.60v4.2M553.90 118.00h4.2M655.20 118.00h-4.2M553.90 109.55h2.4M655.20 109.55h-2.4M553.90 101.10h2.4M655.20 101.10h-2.4M553.90 92.65h2.4M655.20 92.65h-2.4M553.90 84.20h4.2M655.20 84.20h-4.2M553.90 75.75h2.4M655.20 75.75h-2.4M553.90 67.30h2.4M655.20 67.30h-2.4M553.90 58.85h2.4M655.20 58.85h-2.4M553.90 50.40h4.2M655.20 50.40h-4.2M553.90 41.95h2.4M655.20 41.95h-2.4M553.90 33.50h2.4M655.20 33.50h-2.4M553.90 25.05h2.4M655.20 25.05h-2.4M553.90 16.60h4.2M655.20 16.60h-4.2" stroke="#333" stroke-width="0.9" fill="none"/>
<path d="M587.60 37.4h19" stroke="#000" stroke-width="1"/>
<text x="612.00" y="40.60" font-size="9.5" text-anchor="start" >OFTLM</text>
<text x="563.10" y="34.60" font-size="12.2" text-anchor="start" font-weight="bold">e</text>
<text x="551.40" y="120.80" font-size="9.6" text-anchor="end" >0</text>
<text x="551.40" y="87.00" font-size="9.6" text-anchor="end" >2</text>
<text x="551.40" y="53.20" font-size="9.6" text-anchor="end" >4</text>
<text x="551.40" y="19.40" font-size="9.6" text-anchor="end" >6</text>
<text x="553.90" y="128.00" font-size="9.6" text-anchor="middle" >0</text>
<text x="579.23" y="128.00" font-size="9.6" text-anchor="middle" >50</text>
<text x="604.55" y="128.00" font-size="9.6" text-anchor="middle" >100</text>
<text x="629.88" y="128.00" font-size="9.6" text-anchor="middle" >150</text>
<text x="655.20" y="128.00" font-size="9.6" text-anchor="middle" >200</text>
<text x="604.55" y="142.20" font-size="10.6" text-anchor="middle" ><tspan font-style="italic">T</tspan> (K)</text>
<rect x="553.90" y="154.40" width="101.30" height="100.90" fill="none" stroke="#333" stroke-width="0.9"/>
<path d="M553.90 255.30v-4.2M553.90 154.40v4.2M561.14 255.30v-2.4M561.14 154.40v2.4M568.37 255.30v-2.4M568.37 154.40v2.4M575.61 255.30v-2.4M575.61 154.40v2.4M582.84 255.30v-4.2M582.84 154.40v4.2M590.08 255.30v-2.4M590.08 154.40v2.4M597.31 255.30v-2.4M597.31 154.40v2.4M604.55 255.30v-2.4M604.55 154.40v2.4M611.79 255.30v-4.2M611.79 154.40v4.2M619.02 255.30v-2.4M619.02 154.40v2.4M626.26 255.30v-2.4M626.26 154.40v2.4M633.49 255.30v-2.4M633.49 154.40v2.4M640.73 255.30v-4.2M640.73 154.40v4.2M647.96 255.30v-2.4M647.96 154.40v2.4M655.20 255.30v-2.4M655.20 154.40v2.4M553.90 255.30h4.2M553.90 245.21h2.4M553.90 235.12h2.4M553.90 225.03h2.4M553.90 214.94h2.4M553.90 204.85h4.2M553.90 194.76h2.4M553.90 184.67h2.4M553.90 174.58h2.4M553.90 164.49h2.4M553.90 154.40h4.2M655.20 255.30h-4.2M655.20 242.69h-2.4M655.20 230.08h-2.4M655.20 217.46h-2.4M655.20 204.85h-4.2M655.20 192.24h-2.4M655.20 179.62h-2.4M655.20 167.01h-2.4M655.20 154.40h-4.2" stroke="#333" stroke-width="0.9" fill="none"/>
<text x="563.50" y="172.00" font-size="12.2" text-anchor="start" font-weight="bold">j</text>
<text y="187.4" font-size="9.9"><tspan x="563.50" font-style="italic">T</tspan><tspan x="568.20" y="189.8" font-size="5.9">ini</tspan><tspan x="577.20" y="187.4">=</tspan><tspan x="585.60">5</tspan><tspan x="593.50">K</tspan></text>
<text x="551.40" y="258.10" font-size="9.6" text-anchor="end" >0</text>
<text x="551.40" y="207.65" font-size="9.6" text-anchor="end" >0.5</text>
<text x="551.40" y="157.20" font-size="9.6" text-anchor="end" >1.0</text>
<text x="657.70" y="258.10" font-size="9.6" text-anchor="start" >0</text>
<text x="657.70" y="207.65" font-size="9.6" text-anchor="start" >2</text>
<text x="657.70" y="157.20" font-size="9.6" text-anchor="start" >4</text>
<text x="553.90" y="265.30" font-size="9.6" text-anchor="middle" >0</text>
<text x="582.84" y="265.30" font-size="9.6" text-anchor="middle" >40</text>
<text x="611.79" y="265.30" font-size="9.6" text-anchor="middle" >80</text>
<text x="640.73" y="265.30" font-size="9.6" text-anchor="middle" >120</text>
<text x="604.85" y="278.30" font-size="10.8" text-anchor="middle" ><tspan font-style="italic">μ</tspan><tspan font-size="7.5" dy="2">0</tspan><tspan dy="-2" font-style="italic">H</tspan> (T)</text>
<path d="M32.70 227.45 L33.20 257.43 L33.70 225.95 L34.20 254.63 L34.70 239.41 L35.20 253.35 L35.70 235.61 L36.20 248.75 L36.70 235.10 L37.20 249.85 L37.70 235.01 L38.20 245.91 L38.70 235.48 L39.20 246.38 L39.70 228.71 L40.20 250.99 L40.70 229.42 L41.20 244.33 L41.70 230.37 L42.20 243.68 L42.70 232.82 L43.20 247.85 L43.70 229.96 L44.20 248.13 L44.70 228.26 L45.20 247.69 L45.70 228.50 L46.20 244.46 L46.70 230.00 L47.20 244.12 L47.70 229.27 L48.20 244.88 L48.70 231.91 L49.20 248.58 L49.70 228.03 L50.20 248.04 L50.70 230.12 L51.20 245.39 L51.70 230.57 L52.20 242.16 L52.70 231.20 L53.20 243.16 L53.70 231.86 L54.20 246.22 L54.70 232.79 L55.20 245.01 L55.70 229.14 L56.20 239.35 L56.70 231.88 L57.20 238.22 L57.70 231.89 L58.20 239.40 L58.70 232.90 L59.20 240.67 L59.70 229.88 L60.20 241.74 L60.70 233.64 L61.20 240.62 L61.70 231.76 L62.20 240.44 L62.70 231.56 L63.20 240.84 L63.70 234.02 L64.20 243.67 L64.70 231.44 L65.20 239.06 L65.70 231.72 L66.20 239.78 L66.70 231.19 L67.20 240.12 L67.70 234.14 L68.20 240.56 L68.70 234.60 L69.20 242.52 L69.70 234.55 L70.20 239.90 L70.70 234.11 L71.20 237.30 L71.70 233.12 L72.20 237.16 L72.70 230.33 L73.20 237.80 L73.70 231.32 L74.20 237.63 L74.70 231.78 L75.20 238.21 L75.70 232.41 L76.20 237.59 L76.70 229.63 L77.20 235.41 L77.70 230.48 L78.20 237.60 L78.70 228.88 L79.20 239.53 L79.70 227.77 L80.20 234.32 L80.70 226.23 L81.20 235.62 L81.70 228.89 L82.20 234.45 L82.70 228.37 L83.20 233.98 L83.70 226.32 L84.20 233.84 L84.70 226.86 L85.20 233.96 L85.70 226.36 L86.20 232.85 L86.70 223.12 L87.20 231.22 L87.70 223.43 L88.20 231.92 L88.70 219.05 L89.20 227.11 L89.70 218.54 L90.20 224.79 L90.70 215.45 L91.20 225.82 L91.70 216.81 L92.20 228.35 L92.70 220.72 L93.20 238.27 L93.70 231.11 L94.20 243.48 L94.70 239.25 L95.20 246.42 L95.70 243.36 L96.20 247.76 L96.70 241.70 L97.20 249.70 L97.70 244.47 L98.20 248.45 L98.70 241.52 L99.20 247.00 L99.70 242.37 L100.20 246.51 L100.70 242.61 L101.20 249.49 L101.70 241.14 L102.20 251.77 L102.70 240.49 L103.20 251.52 L103.70 241.46 L104.20 248.41 L104.70 241.93 L105.20 246.88 L105.70 240.51 L106.20 247.28 L106.70 239.30 L107.20 246.97 L107.70 239.95 L108.20 245.76 L108.70 238.89 L109.20 246.01 L109.70 238.86 L110.20 246.29 L110.70 238.61 L111.20 246.13 L111.70 239.32 L112.20 247.45 L112.70 238.51 L113.20 247.07 L113.70 237.96 L114.20 245.68 L114.70 241.09 L115.20 244.12 L115.70 241.42 L116.20 246.10 L116.70 241.73 L117.20 249.14 L117.70 241.60 L118.20 246.52 L118.70 240.85 L119.20 248.70 L119.70 242.21 L120.20 248.96 L120.70 239.37 L121.20 246.65 L121.70 240.36 L122.20 244.49 L122.70 239.86 L123.20 243.63 L123.70 237.98 L124.20 243.21 L124.70 235.46 L125.20 249.35 L125.70 231.60 L126.20 242.99" fill="none" stroke="#ff8080" stroke-width="0.9" stroke-linejoin="bevel"/>
<path d="M99.90 219.30H121.20" stroke="#ff8080" stroke-width="1.2"/><path d="M124.60 219.30L119.60 217.30L119.60 221.30Z" fill="#ff8080"/>
<path d="M36.50 255.96 L36.97 254.63 L37.45 253.38 L37.92 253.00 L38.39 251.76 L38.91 251.14 L39.45 250.59 L39.99 249.71 L40.70 249.37 L41.42 248.12 L42.14 247.00 L42.85 246.52 L43.57 245.75 L44.29 244.95 L45.01 244.72 L45.75 243.71 L46.49 242.61 L47.22 242.72 L47.96 241.78 L48.70 241.23 L49.44 240.46 L50.19 239.92 L50.95 239.08 L51.71 238.77 L52.47 237.85 L53.23 237.17 L54.00 236.51 L54.76 235.28 L55.50 234.98 L56.24 234.25 L56.98 233.70 L57.72 232.53 L58.46 232.74 L59.20 231.58 L59.94 230.49 L60.67 229.64 L61.40 229.37 L62.14 228.72 L62.87 227.83 L63.60 227.37 L64.33 226.45 L65.06 226.10 L65.76 224.99 L66.47 224.46 L67.17 224.04 L67.87 223.78 L68.58 221.98 L69.28 221.41 L69.98 220.57 L70.67 220.30 L71.35 218.97 L72.03 218.42 L72.71 217.81 L73.40 216.77 L74.08 216.03 L74.76 215.42 L75.45 214.19 L76.14 213.64 L76.83 213.20 L77.52 212.63 L78.21 211.79 L78.90 210.56 L79.59 210.21 L80.28 209.85 L80.97 209.03 L81.61 208.06 L82.15 206.96 L82.70 206.56 L83.25 205.34 L83.80 204.31 L84.34 203.57 L84.89 203.39 L85.44 202.17 L85.99 201.59 L86.55 200.26 L87.19 199.90 L87.82 198.64 L88.46 197.99 L89.10 197.99 L89.73 196.68 L90.37 195.51 L91.00 194.84 L91.64 194.18 L92.29 193.67 L93.01 192.44 L93.73 191.35 L94.45 191.07 L95.16 190.44 L95.88 189.75 L96.60 189.40 L97.32 188.38 L98.06 187.85 L98.87 186.66 L99.68 186.64 L100.49 186.40 L101.30 185.39 L102.11 184.62 L102.92 183.98 L103.75 183.88 L104.61 182.54 L105.48 182.25 L106.34 181.89 L107.21 181.45 L108.07 180.56 L108.94 180.25 L109.76 179.49 L110.57 179.00 L111.38 178.31 L112.19 177.40 L113.00 177.13 L113.81 176.78 L114.62 175.62 L115.47 175.29 L116.35 175.04 L117.22 174.01 L118.09 173.87 L118.97 172.98 L119.84 173.12 L120.71 172.95 L121.59 172.35 L122.42 171.10 L123.22 170.76 L124.01 169.95 L124.81 169.32 L125.61 169.12 L126.40 167.63 L127.20 167.72" stroke="#dd0000" stroke-width="2.1" fill="none" stroke-linejoin="round" stroke-linecap="round" />
<path d="M80.00 208.00 L86.00 198.50 L90.70 192.30 L94.20 187.60 L99.20 184.00 L104.00 181.30" stroke="#dd0000" stroke-width="1.8" fill="none" stroke-linejoin="round" stroke-linecap="butt" stroke-dasharray="3 1.8"/>
<path d="M32.70 255.30 L33.21 254.92 L33.72 254.54 L34.23 254.15 L34.74 253.77 L35.25 253.38 L35.75 252.99 L36.26 252.59 L36.77 252.20 L37.28 251.80 L37.79 251.40 L38.30 251.00 L38.81 250.59 L39.32 250.19 L39.83 249.78 L40.34 249.37 L40.84 248.95 L41.35 248.54 L41.86 248.12 L42.37 247.70 L42.88 247.28 L43.39 246.85 L43.90 246.43 L44.41 246.00 L44.92 245.57 L45.43 245.14 L45.94 244.70 L46.44 244.26 L46.95 243.82 L47.46 243.38 L47.97 242.93 L48.48 242.49 L48.99 242.04 L49.50 241.58 L50.01 241.13 L50.52 240.67 L51.03 240.21 L51.53 239.75 L52.04 239.29 L52.55 238.82 L53.06 238.35 L53.57 237.88 L54.08 237.41 L54.59 236.94 L55.10 236.47 L55.61 235.99 L56.12 235.51 L56.63 235.03 L57.13 234.55 L57.64 234.07 L58.15 233.59 L58.66 233.10 L59.17 232.62 L59.68 232.13 L60.19 231.65 L60.70 231.16 L61.21 230.67 L61.72 230.18 L62.22 229.69 L62.73 229.19 L63.24 228.70 L63.75 228.20 L64.26 227.70 L64.77 227.19 L65.28 226.69 L65.79 226.18 L66.30 225.66 L66.81 225.15 L67.32 224.62 L67.82 224.10 L68.33 223.57 L68.84 223.03 L69.35 222.50 L69.86 221.95 L70.37 221.40 L70.88 220.86 L71.39 220.32 L71.90 219.77 L72.41 219.22 L72.91 218.67 L73.42 218.10 L73.93 217.53 L74.44 216.94 L74.95 216.34 L75.46 215.72 L75.97 215.08 L76.48 214.41 L76.99 213.72 L77.50 212.99 L78.01 212.23 L78.51 211.43 L79.02 210.59 L79.53 209.73 L80.04 208.85 L80.55 207.94 L81.06 207.02 L81.57 206.08 L82.08 205.14 L82.59 204.19 L83.10 203.24 L83.60 202.29 L84.11 201.35 L84.62 200.42 L85.13 199.51 L85.64 198.64 L86.15 197.78 L86.66 196.94 L87.17 196.09 L87.68 195.23 L88.19 194.34 L88.69 193.41 L89.20 192.41 L89.71 191.35 L90.22 190.21 L90.73 188.96 L91.24 187.42 L91.75 185.59 L92.26 183.60 L92.77 181.55 L93.28 179.55 L93.79 177.71 L94.29 176.13 L94.80 174.85 L95.31 173.63 L95.82 172.58 L96.33 171.85 L96.84 171.47 L97.35 171.17 L97.86 170.92 L98.37 170.70 L98.88 170.52 L99.38 170.38 L99.89 170.27 L100.40 170.20 L100.91 170.14 L101.42 170.09 L101.93 170.04 L102.44 169.99 L102.95 169.94 L103.46 169.89 L103.97 169.84 L104.48 169.80 L104.98 169.75 L105.49 169.71 L106.00 169.67 L106.51 169.63 L107.02 169.60 L107.53 169.56 L108.04 169.52 L108.55 169.49 L109.06 169.46 L109.57 169.43 L110.07 169.40 L110.58 169.37 L111.09 169.34 L111.60 169.31 L112.11 169.29 L112.62 169.26 L113.13 169.24 L113.64 169.21 L114.15 169.19 L114.66 169.17 L115.17 169.15 L115.67 169.13 L116.18 169.11 L116.69 169.09 L117.20 169.07 L117.71 169.06 L118.22 169.04 L118.73 169.02 L119.24 169.01 L119.75 168.99 L120.26 168.98 L120.76 168.97 L121.27 168.95 L121.78 168.94 L122.29 168.93 L122.80 168.91 L123.31 168.90 L123.82 168.89 L124.33 168.88 L124.84 168.87 L125.35 168.85 L125.86 168.84 L126.36 168.83 L126.87 168.82 L127.38 168.81 L127.89 168.80 L128.40 168.79 L128.91 168.78 L129.42 168.77 L129.93 168.76 L130.44 168.75 L130.95 168.74 L131.45 168.73 L131.96 168.72 L132.47 168.72 L132.98 168.71 L133.49 168.71 L134.00 168.70" stroke="#111" stroke-width="0.9" fill="none" stroke-linejoin="round" stroke-linecap="round" />
<path d="M163.00 241.86 L163.50 253.74 L164.00 241.37 L164.50 253.30 L165.00 238.40 L165.50 250.75 L166.00 239.26 L166.50 249.74 L167.00 235.46 L167.50 248.30 L168.00 237.64 L168.50 247.07 L169.00 233.21 L169.50 245.59 L170.00 226.06 L170.50 245.35 L171.00 223.49 L171.50 240.46 L172.00 220.67 L172.50 238.76 L173.00 217.40 L173.50 238.61 L174.00 218.45 L174.50 235.63 L175.00 223.63 L175.50 239.91 L176.00 229.53 L176.50 241.68 L177.00 230.44 L177.50 245.28 L178.00 232.23 L178.50 247.99 L179.00 233.84 L179.50 247.12 L180.00 230.58 L180.50 250.05 L181.00 235.62 L181.50 247.66 L182.00 234.41 L182.50 244.13 L183.00 235.52 L183.50 244.29 L184.00 234.83 L184.50 245.94 L185.00 232.48 L185.50 248.00 L186.00 232.13 L186.50 247.43 L187.00 228.69 L187.50 245.86 L188.00 231.73 L188.50 240.85 L189.00 232.85 L189.50 241.24 L190.00 230.52 L190.50 244.43 L191.00 231.10 L191.50 241.23 L192.00 231.08 L192.50 244.03 L193.00 228.15 L193.50 238.73 L194.00 229.30 L194.50 238.53 L195.00 229.85 L195.50 240.23 L196.00 227.79 L196.50 238.37 L197.00 227.92 L197.50 239.82 L198.00 230.65 L198.50 236.80 L199.00 229.36 L199.50 236.29 L200.00 227.26 L200.50 234.77 L201.00 228.04 L201.50 237.21 L202.00 226.14 L202.50 236.52 L203.00 226.95 L203.50 235.11 L204.00 224.59 L204.50 237.04 L205.00 223.91 L205.50 233.43 L206.00 224.99 L206.50 231.44 L207.00 225.16 L207.50 229.67 L208.00 223.34 L208.50 227.87 L209.00 222.29 L209.50 227.34 L210.00 218.35 L210.50 230.67 L211.00 215.40 L211.50 225.47 L212.00 215.41 L212.50 223.72 L213.00 211.65 L213.50 227.77 L214.00 208.46 L214.50 224.49 L215.00 209.23 L215.50 222.51 L216.00 206.18 L216.50 221.04 L217.00 208.53 L217.50 231.64 L218.00 214.15 L218.50 232.96 L219.00 225.18 L219.50 238.55 L220.00 231.18 L220.50 238.03 L221.00 230.06 L221.50 241.03 L222.00 234.78 L222.50 242.16 L223.00 236.85 L223.50 244.47 L224.00 237.78 L224.50 244.70 L225.00 236.48 L225.50 242.18 L226.00 237.33 L226.50 243.01 L227.00 237.80 L227.50 242.77 L228.00 236.94 L228.50 244.90 L229.00 237.39 L229.50 246.22 L230.00 235.52 L230.50 245.47 L231.00 238.25 L231.50 243.46 L232.00 239.03 L232.50 243.51 L233.00 238.02 L233.50 249.98 L234.00 237.41 L234.50 244.90 L235.00 236.04 L235.50 245.62 L236.00 239.82 L236.50 244.97 L237.00 236.31 L237.50 244.64 L238.00 234.55 L238.50 244.13 L239.00 237.20 L239.50 245.59 L240.00 240.30 L240.50 246.32 L241.00 240.25 L241.50 246.38 L242.00 239.41 L242.50 248.29 L243.00 235.14 L243.50 249.94 L244.00 237.63 L244.50 246.53 L245.00 236.10 L245.50 251.05 L246.00 239.46 L246.50 250.98 L247.00 242.35 L247.50 252.50 L248.00 246.96 L248.50 256.22 L249.00 245.64 L249.50 257.29 L250.00 244.86 L250.50 256.24 L251.00 246.95 L251.50 252.14 L252.00 246.70 L252.50 252.24 L253.00 248.11 L253.50 253.57 L254.00 247.36 L254.50 257.61 L255.00 244.00 L255.50 253.48 L256.00 242.15 L256.50 254.88 L257.00 248.11 L257.50 253.67" fill="none" stroke="#ff8080" stroke-width="0.9" stroke-linejoin="bevel"/>
<path d="M224.90 219.30H245.90" stroke="#ff8080" stroke-width="1.2"/><path d="M249.30 219.30L244.30 217.30L244.30 221.30Z" fill="#ff8080"/>
<path d="M163.90 254.47 L164.05 252.96 L164.19 251.87 L164.34 251.21 L164.48 250.43 L164.63 249.22 L164.77 248.44 L164.92 247.17 L165.06 246.50 L165.21 245.51 L165.36 244.11 L165.50 243.58 L165.65 242.20 L165.79 241.18 L166.47 240.15 L167.19 239.63 L167.84 239.88 L168.42 240.07 L169.00 241.49 L169.53 242.24 L169.71 243.21 L169.90 243.45 L170.08 245.07 L170.27 246.29 L170.45 246.86 L170.64 248.10 L170.82 248.35 L171.02 250.25 L171.32 250.81 L171.62 252.23 L171.93 252.38 L172.23 254.10 L173.06 254.21 L174.01 254.70 L174.29 253.21 L174.57 252.34 L174.85 252.23 L175.13 250.34 L175.41 249.41 L175.69 248.57 L175.97 247.38 L176.65 248.60 L177.36 249.48 L177.89 248.82 L178.15 247.54 L178.40 247.43 L178.65 246.44 L178.90 245.38 L179.15 244.50 L179.40 242.92 L179.65 242.16 L179.98 242.33 L180.34 243.26 L180.70 244.92 L181.06 245.36 L181.42 247.19 L181.68 245.95 L181.90 244.75 L182.12 244.20 L182.34 243.52 L182.56 242.14 L182.79 240.65 L183.01 240.15 L183.23 239.47 L183.53 237.96 L184.09 237.04 L184.65 236.74 L185.21 235.64 L185.83 234.47 L186.45 233.90 L187.07 232.99 L187.70 232.52 L188.32 231.67 L188.94 231.19 L189.57 230.28 L190.20 228.81 L190.83 228.62 L191.47 227.98 L192.10 227.06 L192.76 226.49 L193.56 225.41 L194.37 224.68 L195.17 224.63 L195.97 223.43 L196.63 222.36 L197.19 222.48 L197.76 221.12 L198.32 220.41 L198.88 219.25 L199.44 218.43 L200.00 217.65 L200.40 216.96 L200.80 216.26 L201.20 214.53 L201.60 214.52 L201.99 213.02 L202.39 212.13 L202.79 211.73 L203.27 210.61 L203.74 209.29 L204.22 209.42 L204.70 207.72 L205.18 207.17 L205.67 206.28 L206.19 205.78 L206.71 204.35 L207.22 203.93 L207.74 202.54 L208.26 202.24 L208.75 200.79 L209.20 200.01 L209.66 199.79 L210.12 198.42 L210.57 197.46 L211.03 197.21 L211.48 195.74 L211.92 194.49 L212.37 194.05 L212.81 192.57 L213.25 192.36 L213.70 191.48 L214.17 190.06 L214.70 189.19 L215.24 188.57 L215.77 187.67 L216.30 186.52 L216.93 186.20 L217.61 184.67 L218.28 184.41 L218.96 183.67 L219.66 183.00 L220.47 182.57 L221.28 181.51 L222.09 181.45 L222.90 180.62 L223.73 179.93 L224.58 179.16 L225.42 178.67 L226.27 178.58 L227.11 177.64 L227.98 177.43 L228.84 177.22 L229.70 176.69 L230.57 176.33 L231.42 175.25 L232.28 174.48 L233.14 174.58 L233.99 173.84 L234.85 173.55 L235.70 172.69 L236.56 172.51 L237.41 171.87 L238.27 171.30 L239.12 170.71 L240.00 170.20 L240.95 169.80 L241.89 169.44 L242.83 169.31 L243.77 168.50 L244.71 168.82 L245.65 167.91 L246.59 167.88 L247.53 167.20 L248.48 166.80 L249.43 167.18 L250.39 166.17 L251.35 165.57 L252.31 165.43 L253.27 165.24 L254.23 165.67 L255.18 164.78 L256.14 164.69 L257.10 163.80" stroke="#dd0000" stroke-width="2.1" fill="none" stroke-linejoin="round" stroke-linecap="round" />
<path d="M200.00 218.50 L203.50 214.50 L206.40 210.60 L209.90 204.20 L212.80 198.50 L215.60 193.50 L218.50 187.80" stroke="#dd0000" stroke-width="1.8" fill="none" stroke-linejoin="round" stroke-linecap="butt" stroke-dasharray="3 1.8"/>
<path d="M163.00 255.30 L163.51 254.86 L164.02 254.42 L164.53 253.97 L165.04 253.52 L165.55 253.07 L166.05 252.61 L166.56 252.15 L167.07 251.69 L167.58 251.22 L168.09 250.75 L168.60 250.27 L169.11 249.80 L169.62 249.32 L170.13 248.83 L170.64 248.34 L171.14 247.85 L171.65 247.36 L172.16 246.86 L172.67 246.36 L173.18 245.86 L173.69 245.36 L174.20 244.85 L174.71 244.34 L175.22 243.82 L175.73 243.31 L176.24 242.79 L176.74 242.27 L177.25 241.74 L177.76 241.22 L178.27 240.69 L178.78 240.16 L179.29 239.63 L179.80 239.09 L180.31 238.55 L180.82 238.01 L181.33 237.47 L181.83 236.93 L182.34 236.38 L182.85 235.83 L183.36 235.28 L183.87 234.73 L184.38 234.18 L184.89 233.62 L185.40 233.06 L185.91 232.50 L186.42 231.94 L186.93 231.38 L187.43 230.81 L187.94 230.23 L188.45 229.66 L188.96 229.08 L189.47 228.49 L189.98 227.90 L190.49 227.30 L191.00 226.70 L191.51 226.10 L192.02 225.48 L192.52 224.86 L193.03 224.24 L193.54 223.60 L194.05 222.96 L194.56 222.31 L195.07 221.66 L195.58 220.99 L196.09 220.32 L196.60 219.63 L197.11 218.94 L197.62 218.24 L198.12 217.52 L198.63 216.79 L199.14 216.05 L199.65 215.29 L200.16 214.53 L200.67 213.75 L201.18 212.95 L201.69 212.15 L202.20 211.32 L202.71 210.49 L203.21 209.64 L203.72 208.78 L204.23 207.89 L204.74 206.98 L205.25 206.02 L205.76 205.00 L206.27 203.92 L206.78 202.76 L207.29 201.54 L207.80 200.26 L208.31 198.93 L208.81 197.56 L209.32 196.16 L209.83 194.74 L210.34 193.30 L210.85 191.87 L211.36 190.44 L211.87 189.02 L212.38 187.63 L212.89 186.23 L213.40 184.75 L213.90 183.19 L214.41 181.60 L214.92 179.99 L215.43 178.38 L215.94 176.81 L216.45 175.30 L216.96 173.87 L217.47 172.54 L217.98 171.35 L218.49 170.31 L218.99 169.45 L219.50 168.75 L220.01 168.12 L220.52 167.62 L221.03 167.28 L221.54 167.05 L222.05 166.85 L222.56 166.68 L223.07 166.54 L223.58 166.45 L224.09 166.39 L224.59 166.36 L225.10 166.32 L225.61 166.29 L226.12 166.26 L226.63 166.22 L227.14 166.19 L227.65 166.16 L228.16 166.13 L228.67 166.10 L229.18 166.07 L229.68 166.04 L230.19 166.01 L230.70 165.98 L231.21 165.95 L231.72 165.93 L232.23 165.90 L232.74 165.88 L233.25 165.85 L233.76 165.83 L234.27 165.80 L234.78 165.78 L235.28 165.76 L235.79 165.73 L236.30 165.71 L236.81 165.69 L237.32 165.67 L237.83 165.65 L238.34 165.63 L238.85 165.61 L239.36 165.59 L239.87 165.58 L240.37 165.56 L240.88 165.54 L241.39 165.52 L241.90 165.51 L242.41 165.49 L242.92 165.48 L243.43 165.46 L243.94 165.45 L244.45 165.44 L244.96 165.42 L245.47 165.41 L245.97 165.40 L246.48 165.38 L246.99 165.37 L247.50 165.36 L248.01 165.35 L248.52 165.34 L249.03 165.33 L249.54 165.32 L250.05 165.31 L250.56 165.30 L251.06 165.30 L251.57 165.29 L252.08 165.28 L252.59 165.27 L253.10 165.27 L253.61 165.26 L254.12 165.25 L254.63 165.25 L255.14 165.24 L255.65 165.24 L256.16 165.23 L256.66 165.23 L257.17 165.23 L257.68 165.22 L258.19 165.22 L258.70 165.22 L259.21 165.21 L259.72 165.21 L260.23 165.21 L260.74 165.21 L261.25 165.20 L261.75 165.20 L262.26 165.20 L262.77 165.20 L263.28 165.20 L263.79 165.20 L264.30 165.20" stroke="#111" stroke-width="0.9" fill="none" stroke-linejoin="round" stroke-linecap="round" />
<path d="M306.80 230.96 L307.30 244.34 L307.80 231.81 L308.30 250.66 L308.80 228.69 L309.30 248.05 L309.80 230.69 L310.30 248.29 L310.80 229.98 L311.30 245.34 L311.80 234.63 L312.30 245.34 L312.80 235.99 L313.30 244.20 L313.80 236.40 L314.30 250.13 L314.80 235.51 L315.30 245.70 L315.80 232.00 L316.30 248.80 L316.80 236.85 L317.30 248.60 L317.80 232.27 L318.30 246.27 L318.80 232.70 L319.30 241.79 L319.80 232.76 L320.30 243.24 L320.80 234.53 L321.30 245.35 L321.80 232.55 L322.30 243.15 L322.80 236.19 L323.30 242.17 L323.80 236.73 L324.30 242.23 L324.80 233.18 L325.30 241.83 L325.80 235.32 L326.30 242.28 L326.80 234.07 L327.30 244.92 L327.80 234.19 L328.30 243.68 L328.80 233.68 L329.30 244.98 L329.80 235.85 L330.30 245.22 L330.80 232.98 L331.30 246.60 L331.80 234.22 L332.30 246.01 L332.80 231.86 L333.30 246.70 L333.80 231.59 L334.30 245.70 L334.80 231.15 L335.30 245.16 L335.80 234.48 L336.30 241.64 L336.80 235.35 L337.30 242.24 L337.80 233.18 L338.30 243.88 L338.80 233.32 L339.30 243.91 L339.80 232.74 L340.30 243.74 L340.80 235.22 L341.30 243.47 L341.80 236.60 L342.30 243.61 L342.80 233.70 L343.30 240.84 L343.80 232.13 L344.30 241.86 L344.80 233.13 L345.30 241.61 L345.80 234.93 L346.30 240.00 L346.80 234.13 L347.30 240.32 L347.80 233.82 L348.30 239.60 L348.80 230.63 L349.30 236.99 L349.80 226.50 L350.30 234.43 L350.80 225.36 L351.30 235.87 L351.80 227.15 L352.30 236.12 L352.80 227.71 L353.30 232.93 L353.80 228.07 L354.30 234.39 L354.80 230.46 L355.30 236.72 L355.80 231.22 L356.30 237.65 L356.80 232.09 L357.30 238.27 L357.80 231.88 L358.30 241.52 L358.80 235.54 L359.30 242.99 L359.80 239.00 L360.30 245.31 L360.80 239.60 L361.30 248.99 L361.80 238.39 L362.30 247.37 L362.80 241.70 L363.30 248.35 L363.80 241.83 L364.30 250.48 L364.80 238.85 L365.30 247.49 L365.80 239.75 L366.30 249.11 L366.80 240.18 L367.30 250.95 L367.80 239.97 L368.30 250.88 L368.80 238.10 L369.30 247.65 L369.80 238.36 L370.30 244.68 L370.80 237.05 L371.30 242.71 L371.80 236.81 L372.30 243.51 L372.80 238.62 L373.30 245.43 L373.80 238.00 L374.30 246.69 L374.80 237.76 L375.30 245.71 L375.80 236.95 L376.30 242.06 L376.80 236.50 L377.30 244.17 L377.80 236.20 L378.30 246.02 L378.80 234.74 L379.30 244.73" fill="none" stroke="#55ee55" stroke-width="0.9" stroke-linejoin="bevel"/>
<path d="M364.40 227.80H385.00" stroke="#55ee55" stroke-width="1.2"/><path d="M388.40 227.80L383.40 225.80L383.40 229.80Z" fill="#55ee55"/>
<path d="M293.10 255.48 L293.56 254.28 L294.02 253.40 L294.49 252.49 L294.95 251.80 L295.41 250.57 L296.13 251.77 L296.85 252.29 L297.72 252.23 L298.68 251.86 L299.17 251.15 L299.59 250.38 L300.02 249.44 L300.44 248.34 L300.87 247.57 L301.29 246.42 L301.72 245.90 L302.32 246.34 L302.93 246.54 L303.51 248.01 L304.03 246.77 L304.55 245.52 L305.07 244.94 L305.59 243.86 L306.11 243.89 L306.63 242.53 L307.35 241.22 L308.17 241.25 L308.98 240.37 L309.80 240.46 L310.61 238.97 L311.43 238.01 L312.34 238.25 L313.25 237.67 L314.16 237.20 L315.06 236.23 L315.97 236.54 L316.80 236.34 L317.63 234.68 L318.47 235.03 L319.30 233.92 L320.10 234.18 L320.73 232.82 L321.37 231.84 L322.01 231.44 L322.65 230.48 L323.28 229.35 L323.92 228.95 L324.56 227.80 L325.19 226.62 L325.83 226.98 L326.47 225.48 L327.10 224.61 L327.81 224.18 L328.64 223.02 L329.47 222.50 L330.29 222.17 L331.12 221.57 L331.95 221.16 L332.78 220.89 L333.60 219.83 L334.33 219.41 L335.05 218.73 L335.77 217.51 L336.49 217.18 L337.20 216.11 L337.92 216.00 L338.64 215.10 L339.36 214.25 L340.07 213.13 L340.79 212.84 L341.51 211.86 L342.22 211.59 L342.94 210.62 L343.66 209.70 L344.38 209.50 L345.09 208.72 L345.81 207.61 L346.47 207.37 L347.10 206.13 L347.72 205.33 L348.35 204.66 L348.97 203.60 L349.59 202.89 L350.21 202.17 L350.81 201.86 L351.41 201.03 L352.01 199.68 L352.61 199.42 L353.20 198.11 L353.80 197.42 L354.40 196.75 L355.00 195.75 L355.60 195.57 L356.20 194.10 L356.80 192.85 L357.46 192.83 L358.18 191.60 L358.89 190.92 L359.61 189.39 L360.33 189.87 L361.04 189.10 L361.76 188.38 L362.48 187.71 L363.27 187.31 L364.13 186.24 L364.99 186.00 L365.85 184.95 L366.71 184.53 L367.56 184.41 L368.42 183.67 L369.34 182.73 L370.27 182.83 L371.20 182.26 L372.13 181.67 L373.06 181.63 L373.99 180.98 L374.92 180.22 L375.87 179.99 L376.81 180.49 L377.76 179.14 L378.71 179.30 L379.65 179.05 L380.60 178.69" stroke="#00c800" stroke-width="2.1" fill="none" stroke-linejoin="round" stroke-linecap="round" />
<path d="M347.10 207.00 L354.20 198.50 L361.40 192.80 L368.50 187.80 L375.60 182.80 L378.40 180.70" stroke="#00c800" stroke-width="1.8" fill="none" stroke-linejoin="round" stroke-linecap="butt" stroke-dasharray="3 1.8"/>
<path d="M293.30 255.30 L293.81 254.96 L294.32 254.62 L294.83 254.28 L295.34 253.93 L295.85 253.59 L296.35 253.24 L296.86 252.88 L297.37 252.53 L297.88 252.17 L298.39 251.81 L298.90 251.44 L299.41 251.08 L299.92 250.71 L300.43 250.34 L300.94 249.96 L301.44 249.59 L301.95 249.21 L302.46 248.83 L302.97 248.45 L303.48 248.06 L303.99 247.68 L304.50 247.29 L305.01 246.90 L305.52 246.50 L306.03 246.11 L306.54 245.71 L307.04 245.31 L307.55 244.90 L308.06 244.50 L308.57 244.09 L309.08 243.68 L309.59 243.27 L310.10 242.85 L310.61 242.43 L311.12 242.01 L311.63 241.58 L312.13 241.15 L312.64 240.72 L313.15 240.29 L313.66 239.85 L314.17 239.42 L314.68 238.97 L315.19 238.53 L315.70 238.08 L316.21 237.63 L316.72 237.18 L317.23 236.73 L317.73 236.27 L318.24 235.81 L318.75 235.35 L319.26 234.88 L319.77 234.41 L320.28 233.94 L320.79 233.46 L321.30 232.98 L321.81 232.50 L322.32 232.01 L322.82 231.51 L323.33 231.01 L323.84 230.51 L324.35 230.01 L324.86 229.50 L325.37 228.99 L325.88 228.47 L326.39 227.96 L326.90 227.44 L327.41 226.92 L327.92 226.39 L328.42 225.87 L328.93 225.34 L329.44 224.82 L329.95 224.29 L330.46 223.77 L330.97 223.24 L331.48 222.71 L331.99 222.19 L332.50 221.67 L333.01 221.16 L333.51 220.64 L334.02 220.13 L334.53 219.61 L335.04 219.09 L335.55 218.56 L336.06 218.03 L336.57 217.50 L337.08 216.95 L337.59 216.39 L338.10 215.82 L338.61 215.24 L339.11 214.65 L339.62 214.04 L340.13 213.41 L340.64 212.76 L341.15 212.08 L341.66 211.38 L342.17 210.67 L342.68 209.94 L343.19 209.19 L343.70 208.44 L344.20 207.68 L344.71 206.92 L345.22 206.16 L345.73 205.40 L346.24 204.65 L346.75 203.91 L347.26 203.17 L347.77 202.43 L348.28 201.69 L348.79 200.93 L349.29 200.15 L349.80 199.33 L350.31 198.48 L350.82 197.58 L351.33 196.59 L351.84 195.52 L352.35 194.39 L352.86 193.23 L353.37 192.07 L353.88 190.93 L354.39 189.83 L354.89 188.80 L355.40 187.86 L355.91 186.98 L356.42 186.14 L356.93 185.32 L357.44 184.51 L357.95 183.69 L358.46 182.84 L358.97 181.93 L359.48 180.98 L359.98 180.00 L360.49 179.01 L361.00 177.99 L361.51 176.92 L362.02 175.81 L362.53 174.64 L363.04 173.40 L363.55 172.07 L364.06 170.30 L364.57 168.23 L365.08 166.39 L365.58 165.32 L366.09 164.88 L366.60 164.55 L367.11 164.30 L367.62 164.14 L368.13 164.04 L368.64 163.96 L369.15 163.88 L369.66 163.81 L370.17 163.75 L370.67 163.70 L371.18 163.65 L371.69 163.61 L372.20 163.57 L372.71 163.54 L373.22 163.51 L373.73 163.48 L374.24 163.45 L374.75 163.42 L375.26 163.38 L375.77 163.35 L376.27 163.32 L376.78 163.29 L377.29 163.26 L377.80 163.23 L378.31 163.20 L378.82 163.17 L379.33 163.14 L379.84 163.11 L380.35 163.08 L380.86 163.05 L381.36 163.02 L381.87 163.00 L382.38 162.97 L382.89 162.94 L383.40 162.92 L383.91 162.89 L384.42 162.87 L384.93 162.84 L385.44 162.82 L385.95 162.80 L386.46 162.78 L386.96 162.76 L387.47 162.74 L387.98 162.72 L388.49 162.70 L389.00 162.69 L389.51 162.67 L390.02 162.66 L390.53 162.65 L391.04 162.64 L391.55 162.63 L392.05 162.62 L392.56 162.61 L393.07 162.61 L393.58 162.60 L394.09 162.60 L394.60 162.60" stroke="#111" stroke-width="0.9" fill="none" stroke-linejoin="round" stroke-linecap="round" />
<path d="M428.80 235.85 L429.30 251.23 L429.80 239.15 L430.30 248.98 L430.80 236.83 L431.30 250.22 L431.80 236.65 L432.30 252.69 L432.80 230.66 L433.30 249.25 L433.80 232.55 L434.30 248.99 L434.80 233.47 L435.30 248.65 L435.80 232.41 L436.30 242.77 L436.80 230.74 L437.30 245.53 L437.80 234.39 L438.30 245.95 L438.80 232.15 L439.30 246.33 L439.80 229.34 L440.30 242.40 L440.80 231.23 L441.30 244.27 L441.80 231.55 L442.30 242.01 L442.80 228.00 L443.30 243.83 L443.80 232.61 L444.30 241.19 L444.80 233.01 L445.30 245.71 L445.80 235.05 L446.30 240.54 L446.80 234.69 L447.30 242.31 L447.80 232.35 L448.30 240.61 L448.80 231.20 L449.30 239.82 L449.80 233.08 L450.30 240.97 L450.80 231.69 L451.30 238.91 L451.80 233.10 L452.30 237.95 L452.80 233.35 L453.30 237.87 L453.80 234.69 L454.30 238.49 L454.80 232.63 L455.30 236.84 L455.80 231.47 L456.30 237.60 L456.80 232.13 L457.30 239.44 L457.80 234.07 L458.30 241.54 L458.80 233.52 L459.30 239.99 L459.80 229.88 L460.30 237.28 L460.80 225.55 L461.30 238.71 L461.80 230.42 L462.30 240.49 L462.80 234.25 L463.30 240.23 L463.80 233.65 L464.30 238.51 L464.80 228.20 L465.30 237.89 L465.80 228.47 L466.30 239.26 L466.80 225.37 L467.30 238.62 L467.80 228.18 L468.30 238.59 L468.80 227.73 L469.30 235.81 L469.80 228.49 L470.30 235.56 L470.80 231.07 L471.30 233.95 L471.80 229.47 L472.30 232.35 L472.80 228.76 L473.30 232.35 L473.80 229.56 L474.30 233.10 L474.80 225.25 L475.30 232.63 L475.80 225.23 L476.30 235.21 L476.80 223.99 L477.30 236.36 L477.80 227.54 L478.30 237.08 L478.80 230.94 L479.30 236.22 L479.80 232.84 L480.30 236.70 L480.80 233.40 L481.30 238.37 L481.80 235.97 L482.30 240.32 L482.80 238.21 L483.30 241.60 L483.80 236.55 L484.30 241.70 L484.80 237.79 L485.30 241.76 L485.80 238.75 L486.30 243.70 L486.80 239.33 L487.30 246.63 L487.80 238.98 L488.30 247.96 L488.80 242.56 L489.30 249.92 L489.80 241.55 L490.30 250.17 L490.80 241.35 L491.30 247.71 L491.80 238.22 L492.30 246.38 L492.80 240.77 L493.30 247.10 L493.80 241.36 L494.30 248.24 L494.80 243.06 L495.30 248.41 L495.80 243.69 L496.30 247.30 L496.80 242.72 L497.30 246.20 L497.80 240.83 L498.30 246.63 L498.80 238.46 L499.30 246.25 L499.80 241.13 L500.30 247.68 L500.80 241.09 L501.30 249.48 L501.80 241.15 L502.30 246.46 L502.80 238.93 L503.30 244.73 L503.80 237.18 L504.30 247.28 L504.80 239.48 L505.30 246.82 L505.80 238.30 L506.30 246.95 L506.80 237.62 L507.30 246.16 L507.80 238.75 L508.30 245.84 L508.80 236.95 L509.30 244.27 L509.80 237.13 L510.30 245.34" fill="none" stroke="#55ee55" stroke-width="0.9" stroke-linejoin="bevel"/>
<path d="M485.70 227.70H506.70" stroke="#55ee55" stroke-width="1.2"/><path d="M510.10 227.70L505.10 225.70L505.10 229.70Z" fill="#55ee55"/>
<path d="M425.00 254.48 L425.73 254.10 L426.46 252.89 L427.18 251.95 L427.91 251.34 L428.63 250.77 L429.11 249.75 L429.59 249.53 L430.07 248.67 L430.56 247.46 L431.04 246.18 L431.74 245.84 L432.72 245.39 L433.70 245.75 L434.55 244.90 L435.31 244.28 L436.08 243.36 L436.89 242.26 L437.69 242.01 L438.49 241.29 L439.30 241.11 L440.10 240.41 L440.91 239.52 L441.73 239.05 L442.61 239.14 L443.50 237.88 L444.38 237.40 L445.26 237.10 L446.14 236.45 L446.89 235.85 L447.65 235.46 L448.40 235.14 L449.15 233.40 L449.90 233.25 L450.65 232.59 L451.41 231.87 L452.16 231.15 L452.86 230.37 L453.51 230.00 L454.16 228.78 L454.82 228.11 L455.47 227.37 L456.13 226.63 L456.78 225.77 L457.43 225.34 L458.08 224.26 L458.73 223.53 L459.37 222.68 L460.02 221.61 L460.67 220.88 L461.31 220.03 L461.94 219.60 L462.54 218.52 L463.15 217.60 L463.75 217.17 L464.36 216.87 L464.95 217.01 L465.54 218.87 L466.16 218.85 L466.88 218.09 L467.56 217.69 L467.96 216.46 L468.36 215.33 L468.77 215.24 L469.17 213.32 L469.57 212.69 L469.98 212.04 L470.49 210.59 L471.05 210.04 L471.62 209.34 L472.18 209.10 L472.74 207.27 L473.31 206.68 L473.85 206.03 L474.40 205.01 L474.95 203.77 L475.50 203.40 L476.05 202.45 L476.60 201.70 L477.14 201.05 L477.69 200.16 L478.19 199.09 L478.70 198.19 L479.21 196.88 L479.71 196.29 L480.22 195.52 L480.73 194.46 L481.23 193.73 L481.74 192.57 L482.25 192.40 L482.76 191.70 L483.26 190.06 L483.77 189.42 L484.46 188.52 L485.30 188.40 L486.14 187.58 L486.98 186.90 L487.82 186.24 L488.66 185.78 L489.50 184.87 L490.38 184.86 L491.28 183.99 L492.19 183.91 L493.10 183.34 L494.01 183.17 L494.92 182.39 L495.82 182.25 L496.73 181.21 L497.64 181.21 L498.55 180.51 L499.45 180.18 L500.36 179.69 L501.27 179.50 L502.18 178.15 L503.09 178.40 L503.99 177.39 L504.83 177.64 L505.68 176.12 L506.52 175.85 L507.37 175.09 L508.21 175.52 L509.06 174.08 L509.90 173.93" stroke="#00c800" stroke-width="2.1" fill="none" stroke-linejoin="round" stroke-linecap="round" />
<path d="M451.00 227.50 L453.10 225.10 L455.20 221.60 L458.40 218.40 L462.70 214.10 L466.90 209.30 L470.70 205.10 L474.40 201.30" stroke="#00c800" stroke-width="1.8" fill="none" stroke-linejoin="round" stroke-linecap="butt" stroke-dasharray="3 1.8"/>
<path d="M423.60 255.30 L424.11 254.86 L424.62 254.43 L425.13 254.00 L425.63 253.56 L426.14 253.13 L426.65 252.71 L427.16 252.28 L427.67 251.86 L428.18 251.43 L428.69 251.01 L429.19 250.59 L429.70 250.17 L430.21 249.76 L430.72 249.34 L431.23 248.93 L431.74 248.52 L432.25 248.11 L432.75 247.70 L433.26 247.30 L433.77 246.89 L434.28 246.49 L434.79 246.09 L435.30 245.69 L435.81 245.30 L436.31 244.90 L436.82 244.52 L437.33 244.14 L437.84 243.77 L438.35 243.41 L438.86 243.05 L439.36 242.69 L439.87 242.33 L440.38 241.98 L440.89 241.62 L441.40 241.27 L441.91 240.91 L442.42 240.55 L442.92 240.19 L443.43 239.82 L443.94 239.45 L444.45 239.07 L444.96 238.68 L445.47 238.29 L445.98 237.88 L446.48 237.47 L446.99 237.05 L447.50 236.61 L448.01 236.17 L448.52 235.71 L449.03 235.25 L449.54 234.77 L450.04 234.29 L450.55 233.79 L451.06 233.28 L451.57 232.76 L452.08 232.23 L452.59 231.67 L453.10 231.11 L453.60 230.53 L454.11 229.92 L454.62 229.28 L455.13 228.60 L455.64 227.89 L456.15 227.17 L456.66 226.44 L457.16 225.71 L457.67 225.00 L458.18 224.29 L458.69 223.59 L459.20 222.88 L459.71 222.17 L460.22 221.46 L460.72 220.75 L461.23 220.03 L461.74 219.31 L462.25 218.58 L462.76 217.85 L463.27 217.11 L463.77 216.37 L464.28 215.63 L464.79 214.88 L465.30 214.13 L465.81 213.37 L466.32 212.62 L466.83 211.85 L467.33 211.09 L467.84 210.32 L468.35 209.54 L468.86 208.76 L469.37 207.98 L469.88 207.19 L470.39 206.41 L470.89 205.65 L471.40 204.92 L471.91 204.19 L472.42 203.46 L472.93 202.72 L473.44 201.96 L473.95 201.18 L474.45 200.36 L474.96 199.49 L475.47 198.57 L475.98 197.58 L476.49 196.53 L477.00 195.32 L477.51 193.94 L478.01 192.43 L478.52 190.81 L479.03 189.15 L479.54 187.48 L480.05 185.85 L480.56 184.09 L481.07 182.19 L481.57 180.27 L482.08 178.48 L482.59 176.95 L483.10 175.81 L483.61 174.86 L484.12 173.99 L484.63 173.23 L485.13 172.61 L485.64 172.16 L486.15 171.88 L486.66 171.65 L487.17 171.44 L487.68 171.26 L488.18 171.11 L488.69 170.98 L489.20 170.89 L489.71 170.82 L490.22 170.79 L490.73 170.76 L491.24 170.73 L491.74 170.70 L492.25 170.67 L492.76 170.64 L493.27 170.61 L493.78 170.59 L494.29 170.56 L494.80 170.54 L495.30 170.51 L495.81 170.49 L496.32 170.46 L496.83 170.44 L497.34 170.42 L497.85 170.40 L498.36 170.38 L498.86 170.35 L499.37 170.33 L499.88 170.31 L500.39 170.30 L500.90 170.28 L501.41 170.26 L501.92 170.24 L502.42 170.22 L502.93 170.21 L503.44 170.19 L503.95 170.18 L504.46 170.16 L504.97 170.15 L505.48 170.13 L505.98 170.12 L506.49 170.11 L507.00 170.09 L507.51 170.08 L508.02 170.07 L508.53 170.06 L509.04 170.05 L509.54 170.04 L510.05 170.03 L510.56 170.02 L511.07 170.01 L511.58 170.00 L512.09 169.99 L512.59 169.99 L513.10 169.98 L513.61 169.97 L514.12 169.96 L514.63 169.96 L515.14 169.95 L515.65 169.95 L516.15 169.94 L516.66 169.94 L517.17 169.93 L517.68 169.93 L518.19 169.92 L518.70 169.92 L519.21 169.92 L519.71 169.91 L520.22 169.91 L520.73 169.91 L521.24 169.91 L521.75 169.90 L522.26 169.90 L522.77 169.90 L523.27 169.90 L523.78 169.90 L524.29 169.90 L524.80 169.90" stroke="#111" stroke-width="0.9" fill="none" stroke-linejoin="round" stroke-linecap="round" />
<path d="M562.00 235.96 L562.50 251.78 L563.00 237.24 L563.50 246.90 L564.00 234.60 L564.50 247.43 L565.00 236.91 L565.50 246.16 L566.00 236.38 L566.50 248.16 L567.00 234.38 L567.50 248.21 L568.00 236.92 L568.50 244.17 L569.00 236.54 L569.50 243.64 L570.00 235.17 L570.50 244.52 L571.00 235.41 L571.50 242.43 L572.00 235.34 L572.50 242.73 L573.00 233.57 L573.50 244.27 L574.00 231.77 L574.50 242.82 L575.00 231.71 L575.50 242.93 L576.00 232.16 L576.50 244.95 L577.00 236.91 L577.50 244.30 L578.00 234.43 L578.50 245.52 L579.00 237.51 L579.50 248.22 L580.00 238.80 L580.50 245.83 L581.00 235.69 L581.50 244.21 L582.00 236.26 L582.50 247.04 L583.00 237.54 L583.50 246.08 L584.00 236.37 L584.50 245.20 L585.00 235.98 L585.50 244.55 L586.00 236.86 L586.50 247.72 L587.00 235.97 L587.50 246.63 L588.00 237.31 L588.50 247.07 L589.00 240.30 L589.50 247.90 L590.00 239.75 L590.50 245.12 L591.00 238.83 L591.50 245.37 L592.00 241.32 L592.50 244.32 L593.00 240.54 L593.50 245.47 L594.00 238.17 L594.50 245.03 L595.00 236.96 L595.50 246.01 L596.00 237.30 L596.50 247.69 L597.00 239.02 L597.50 245.91 L598.00 239.71 L598.50 247.09 L599.00 238.69 L599.50 245.36 L600.00 239.00 L600.50 244.79 L601.00 235.21 L601.50 243.27 L602.00 234.84 L602.50 247.80 L603.00 238.29 L603.50 250.45 L604.00 239.45 L604.50 245.38 L605.00 240.00 L605.50 244.46 L606.00 240.21 L606.50 243.18 L607.00 239.91 L607.50 245.70 L608.00 239.64 L608.50 248.24 L609.00 241.76 L609.50 245.83 L610.00 241.84 L610.50 244.20 L611.00 237.00 L611.50 242.78 L612.00 236.58 L612.50 244.79 L613.00 237.57 L613.50 243.81 L614.00 237.10 L614.50 245.69 L615.00 238.29 L615.50 243.81 L616.00 236.60 L616.50 242.88 L617.00 239.12 L617.50 243.23 L618.00 239.89 L618.50 244.04 L619.00 238.68 L619.50 248.20 L620.00 237.38 L620.50 245.27 L621.00 238.99 L621.50 246.05 L622.00 237.82 L622.50 244.59 L623.00 236.48 L623.50 244.68 L624.00 234.83 L624.50 244.89 L625.00 237.88 L625.50 245.69 L626.00 233.14 L626.50 242.77 L627.00 233.73 L627.50 239.78 L628.00 232.12 L628.50 240.73 L629.00 234.69 L629.50 241.42 L630.00 232.72 L630.50 241.76 L631.00 233.38 L631.50 240.39 L632.00 234.42 L632.50 241.60 L633.00 236.30 L633.50 241.63 L634.00 237.10 L634.50 244.08 L635.00 237.59 L635.50 245.86 L636.00 240.64 L636.50 247.66 L637.00 240.71 L637.50 250.23 L638.00 244.93 L638.50 250.37 L639.00 246.66 L639.50 252.04 L640.00 245.11 L640.50 250.85 L641.00 244.79 L641.50 248.80 L642.00 244.64 L642.50 249.45 L643.00 242.48 L643.50 250.00 L644.00 243.02 L644.50 247.56 L645.00 241.48 L645.50 244.45 L646.00 239.38 L646.50 244.70 L647.00 235.39 L647.50 244.94 L648.00 235.79" fill="none" stroke="#ffcf70" stroke-width="0.9" stroke-linejoin="bevel"/>
<path d="M623.10 227.70H644.10" stroke="#ffcf70" stroke-width="1.2"/><path d="M647.50 227.70L642.50 225.70L642.50 229.70Z" fill="#ffcf70"/>
<path d="M554.30 254.46 L554.40 254.43 L554.50 252.84 L554.60 252.30 L554.71 251.02 L554.81 250.09 L554.91 249.43 L555.01 247.98 L555.11 247.30 L555.21 245.43 L555.31 245.13 L555.41 243.79 L555.51 242.82 L555.61 241.86 L555.71 240.96 L555.81 240.35 L555.91 238.30 L556.02 237.86 L556.12 236.63 L556.22 236.19 L556.42 234.77 L557.17 234.36 L557.92 233.42 L558.46 233.87 L558.78 234.93 L559.09 235.46 L559.41 236.55 L559.62 237.09 L559.66 238.61 L559.70 239.79 L559.74 240.37 L559.78 241.88 L559.83 241.93 L559.87 243.00 L559.91 244.15 L559.95 245.43 L559.99 246.59 L560.03 247.56 L560.08 248.57 L560.12 249.82 L560.16 250.47 L560.20 251.24 L560.39 252.23 L560.58 254.23 L560.77 253.88 L561.11 255.06 L561.82 254.85 L562.08 253.59 L562.33 252.22 L562.59 251.49 L562.84 250.78 L563.04 249.89 L563.21 248.27 L563.39 247.77 L563.57 246.63 L563.74 245.89 L563.92 244.98 L564.10 243.47 L564.50 242.26 L565.21 242.10 L565.66 242.81 L565.94 243.46 L566.21 244.29 L566.49 245.91 L566.76 245.85 L567.27 247.30 L567.82 247.70 L568.21 247.83 L568.42 246.86 L568.64 246.30 L568.86 244.58 L569.07 243.72 L569.29 242.42 L569.70 242.14 L570.30 241.05 L570.90 240.50 L571.52 239.26 L572.25 238.78 L572.97 238.50 L573.70 237.44 L574.46 237.01 L575.26 236.37 L576.05 235.49 L576.89 234.68 L577.86 235.71 L578.83 235.73 L579.74 235.81 L580.59 234.36 L581.39 233.88 L581.99 232.92 L582.59 232.49 L583.19 232.26 L584.11 231.78 L585.09 231.38 L586.07 231.18 L587.02 231.05 L587.98 230.42 L588.82 230.07 L589.66 229.44 L590.50 228.18 L591.34 228.16 L592.16 228.10 L592.96 226.96 L593.75 226.42 L594.55 225.66 L595.34 225.08 L596.14 224.94 L597.06 224.15 L598.03 223.67 L599.01 222.80 L599.96 223.26 L600.59 222.05 L601.22 221.31 L601.84 221.31 L602.47 220.49 L603.10 218.92 L603.81 219.04 L604.64 218.35 L605.47 217.40 L606.17 217.64 L606.49 217.89 L606.81 218.98 L607.13 219.86 L607.45 220.92 L607.77 222.47 L608.09 221.64 L608.41 220.74 L608.73 219.84 L609.06 219.23 L609.38 218.12 L609.70 217.52 L610.02 216.09 L610.35 214.97 L610.76 214.31 L611.53 213.82 L612.30 212.88 L613.07 212.59 L613.84 212.40 L614.61 211.02 L615.37 210.56 L616.17 210.33 L617.01 209.18 L617.86 208.57 L618.70 207.95 L619.55 207.85 L620.40 207.34 L621.24 206.59 L621.95 205.93 L622.66 205.58 L623.36 204.74 L624.06 203.33 L624.77 203.03 L625.41 202.29 L626.05 201.69 L626.69 200.63 L627.33 199.72 L627.97 199.00 L628.61 197.83 L629.25 197.57 L629.89 196.62 L630.66 196.29 L631.43 195.19 L632.20 194.72 L632.97 193.91 L633.74 193.23 L634.51 193.11 L635.29 192.11 L636.06 191.73 L636.83 190.62 L637.74 190.57 L638.68 189.66 L639.61 189.64 L640.54 189.25 L641.48 189.19 L642.39 188.65 L643.29 188.09 L644.19 187.94 L645.10 187.30 L646.00 186.95 L646.90 186.57 L647.80 185.87" stroke="#cc8800" stroke-width="2.1" fill="none" stroke-linejoin="round" stroke-linecap="round" />
<path d="M553.90 255.30 L554.41 255.01 L554.91 254.71 L555.42 254.41 L555.93 254.11 L556.44 253.81 L556.94 253.50 L557.45 253.20 L557.96 252.89 L558.46 252.58 L558.97 252.27 L559.48 251.95 L559.98 251.64 L560.49 251.32 L561.00 251.00 L561.51 250.68 L562.01 250.36 L562.52 250.04 L563.03 249.71 L563.53 249.38 L564.04 249.05 L564.55 248.72 L565.05 248.39 L565.56 248.06 L566.07 247.72 L566.58 247.39 L567.08 247.05 L567.59 246.71 L568.10 246.36 L568.60 246.02 L569.11 245.68 L569.62 245.33 L570.13 244.98 L570.63 244.63 L571.14 244.28 L571.65 243.93 L572.15 243.58 L572.66 243.22 L573.17 242.87 L573.67 242.51 L574.18 242.15 L574.69 241.79 L575.20 241.42 L575.70 241.06 L576.21 240.69 L576.72 240.32 L577.22 239.95 L577.73 239.57 L578.24 239.20 L578.74 238.82 L579.25 238.44 L579.76 238.05 L580.27 237.67 L580.77 237.28 L581.28 236.89 L581.79 236.50 L582.29 236.10 L582.80 235.70 L583.31 235.30 L583.82 234.90 L584.32 234.49 L584.83 234.08 L585.34 233.66 L585.84 233.25 L586.35 232.82 L586.86 232.39 L587.36 231.95 L587.87 231.50 L588.38 231.04 L588.89 230.58 L589.39 230.11 L589.90 229.65 L590.41 229.18 L590.91 228.71 L591.42 228.25 L591.93 227.78 L592.43 227.33 L592.94 226.87 L593.45 226.43 L593.96 226.00 L594.46 225.57 L594.97 225.15 L595.48 224.74 L595.98 224.33 L596.49 223.92 L597.00 223.52 L597.51 223.12 L598.01 222.72 L598.52 222.32 L599.03 221.91 L599.53 221.51 L600.04 221.10 L600.55 220.68 L601.05 220.27 L601.56 219.84 L602.07 219.41 L602.58 218.97 L603.08 218.52 L603.59 218.05 L604.10 217.58 L604.60 217.10 L605.11 216.60 L605.62 216.08 L606.12 215.55 L606.63 215.01 L607.14 214.44 L607.65 213.81 L608.15 213.12 L608.66 212.40 L609.17 211.66 L609.67 210.94 L610.18 210.26 L610.69 209.59 L611.19 208.92 L611.70 208.26 L612.21 207.61 L612.72 206.96 L613.22 206.31 L613.73 205.66 L614.24 205.02 L614.74 204.37 L615.25 203.73 L615.76 203.09 L616.27 202.45 L616.77 201.81 L617.28 201.16 L617.79 200.52 L618.29 199.87 L618.80 199.22 L619.31 198.57 L619.81 197.91 L620.32 197.26 L620.83 196.63 L621.34 196.01 L621.84 195.40 L622.35 194.78 L622.86 194.16 L623.36 193.53 L623.87 192.87 L624.38 192.19 L624.88 191.47 L625.39 190.71 L625.90 189.90 L626.41 189.02 L626.91 188.05 L627.42 187.02 L627.93 185.93 L628.43 184.80 L628.94 183.66 L629.45 182.51 L629.96 181.38 L630.46 180.12 L630.97 178.74 L631.48 177.35 L631.98 176.09 L632.49 175.07 L633.00 174.40 L633.50 173.90 L634.01 173.46 L634.52 173.09 L635.03 172.79 L635.53 172.59 L636.04 172.48 L636.55 172.40 L637.05 172.34 L637.56 172.28 L638.07 172.22 L638.57 172.18 L639.08 172.13 L639.59 172.10 L640.10 172.06 L640.60 172.03 L641.11 172.00 L641.62 171.97 L642.12 171.95 L642.63 171.92 L643.14 171.90 L643.65 171.87 L644.15 171.85 L644.66 171.82 L645.17 171.79 L645.67 171.76 L646.18 171.73 L646.69 171.70 L647.19 171.67 L647.70 171.64 L648.21 171.61 L648.72 171.58 L649.22 171.56 L649.73 171.53 L650.24 171.50 L650.74 171.48 L651.25 171.45 L651.76 171.43 L652.26 171.41 L652.77 171.38 L653.28 171.36 L653.79 171.34 L654.29 171.32 L654.80 171.30" stroke="#111" stroke-width="0.9" fill="none" stroke-linejoin="round" stroke-linecap="round" />
<text transform="translate(11.0,67.1) rotate(-90)" font-size="9.9" text-anchor="middle"><tspan font-style="italic">M</tspan>/<tspan font-style="italic">H</tspan> − <tspan font-style="italic">χ</tspan><tspan font-size="6.5" dy="2">0</tspan><tspan dy="-2"> (10</tspan><tspan font-size="6.5" dy="-3.5">−3</tspan><tspan dy="3.5"> cm</tspan><tspan font-size="6.5" dy="-3.5">3</tspan><tspan dy="3.5"> mol</tspan><tspan font-size="6.5" dy="-3.5">−1</tspan><tspan dy="3.5">)</tspan></text>
<text transform="translate(10.3,204.9) rotate(-90)" font-size="10.8" text-anchor="middle"><tspan font-style="italic">M</tspan> (<tspan font-style="italic">μ</tspan><tspan font-size="6.5" dy="2">B</tspan><tspan dy="-2">/Re)</tspan></text>
<text transform="translate(673.7,205.3) rotate(90)" font-size="10.2" text-anchor="middle"><tspan font-style="italic">dM</tspan>/d(<tspan font-style="italic">μ</tspan><tspan font-size="6.5" dy="2">0</tspan><tspan dy="-2" font-style="italic">H</tspan>) (10<tspan font-size="6.5" dy="-3.5">−2</tspan><tspan dy="3.5"> </tspan><tspan font-style="italic">μ</tspan><tspan font-size="6.5" dy="2">B</tspan><tspan dy="-2">/Re T)</tspan></text>
</svg>
</body></html>
